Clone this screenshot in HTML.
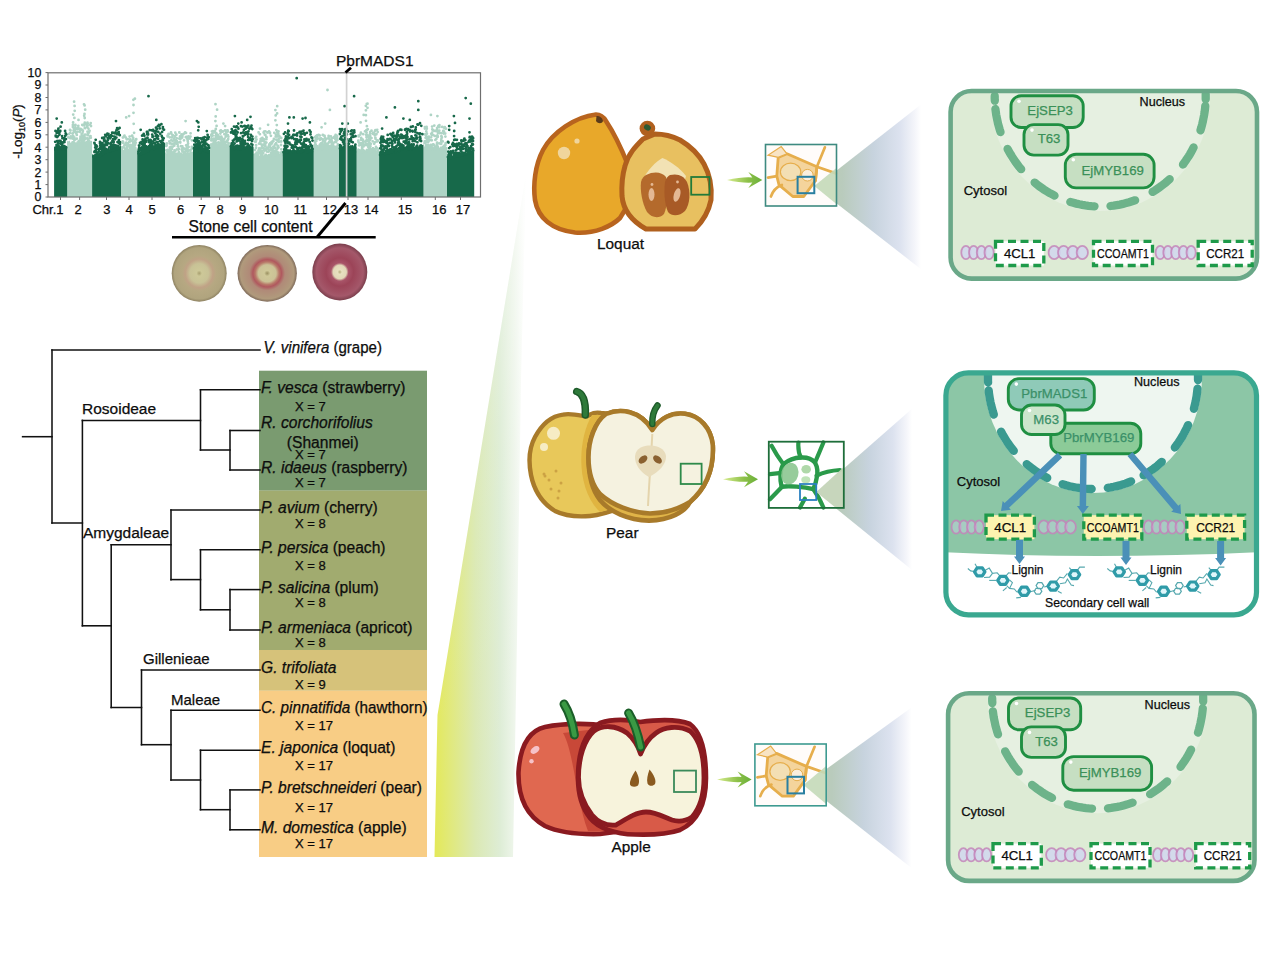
<!DOCTYPE html>
<html><head><meta charset="utf-8"><style>
html,body{margin:0;padding:0;background:#fff;width:1266px;height:960px;overflow:hidden}
svg{display:block}
text{font-family:"Liberation Sans",sans-serif;stroke:currentColor;stroke-width:0.25px}
</style></head><body>
<svg width="1266" height="960" viewBox="0 0 1266 960" fill="#111">
<g id="manhattan">
<g fill="#aed4c5">
<polygon points="67.2,197.0 67.2,140.7 68.4,141.5 69.7,140.5 70.9,144.1 72.2,141.8 73.4,142.3 74.7,141.4 75.9,142.9 77.2,140.4 78.4,143.8 79.7,142.1 80.9,141.4 82.1,140.8 83.4,141.4 84.6,141.5 85.9,141.2 87.1,140.7 88.4,142.8 89.6,141.6 90.9,140.8 92.1,140.9 92.1,197.0"/>
<polygon points="121.0,197.0 121.0,150.2 122.2,148.7 123.5,149.9 124.7,149.6 126.0,149.0 127.2,149.9 128.5,149.7 129.7,149.5 131.0,148.5 132.2,150.0 133.5,150.2 134.7,148.2 136.0,149.7 137.2,147.4 137.2,197.0"/>
<polygon points="165.0,197.0 165.0,151.0 166.2,153.5 167.4,151.8 168.7,152.3 169.9,152.0 171.1,152.7 172.3,153.0 173.5,151.3 174.7,152.1 176.0,153.2 177.2,153.2 178.4,152.9 179.6,153.4 180.8,152.2 182.0,153.6 183.3,153.8 184.5,153.8 185.7,153.7 186.9,151.5 188.1,153.7 189.3,152.4 190.6,151.2 191.8,152.3 193.0,153.5 193.0,197.0"/>
<polygon points="210.0,197.0 210.0,143.7 211.2,142.6 212.4,144.0 213.7,143.7 214.9,143.7 216.1,144.9 217.3,144.2 218.6,142.6 219.8,145.1 221.0,144.9 222.2,142.3 223.5,142.9 224.7,143.3 225.9,145.0 227.2,144.9 228.4,144.2 229.6,141.8 229.6,197.0"/>
<polygon points="253.6,197.0 253.6,153.8 254.8,155.0 256.0,153.9 257.2,153.7 258.4,153.9 259.7,155.9 260.9,153.3 262.1,155.4 263.3,155.5 264.5,153.9 265.7,155.5 266.9,155.2 268.1,153.9 269.4,153.5 270.6,154.7 271.8,151.5 273.0,151.7 274.2,153.0 275.4,152.5 276.6,153.4 277.8,150.8 279.1,153.9 280.3,153.2 281.5,153.4 282.7,150.9 282.7,197.0"/>
<polygon points="313.7,197.0 313.7,146.3 314.9,145.9 316.1,147.1 317.3,146.1 318.5,146.9 319.7,145.3 320.9,147.5 322.1,147.3 323.3,147.1 324.5,145.9 325.7,145.7 327.0,147.9 328.2,144.2 329.4,144.7 330.6,146.4 331.8,147.3 333.0,144.8 334.2,144.2 335.4,147.2 336.6,145.0 337.8,144.8 339.0,144.4 339.0,197.0"/>
<polygon points="356.6,197.0 356.6,150.7 357.9,148.0 359.1,148.7 360.4,149.2 361.6,150.5 362.9,148.6 364.1,150.5 365.4,150.5 366.6,148.8 367.9,148.6 369.1,148.0 370.4,147.9 371.6,150.5 372.9,149.8 374.1,150.4 375.4,149.1 376.6,150.9 377.9,147.7 379.1,148.4 379.1,197.0"/>
<polygon points="423.5,197.0 423.5,147.7 424.7,146.3 426.0,145.7 427.2,145.5 428.4,146.5 429.7,145.1 430.9,144.8 432.2,145.5 433.4,147.1 434.6,147.5 435.9,146.1 437.1,148.0 438.3,147.8 439.6,148.1 440.8,146.1 442.1,147.0 443.3,145.0 444.5,145.5 445.8,146.5 447.0,147.2 447.0,197.0"/>
</g><path fill="none" stroke="#aed4c5" stroke-width="2.8" stroke-linecap="round" d="M77.7 128.8h0M88.0 134.8h0M82.5 139.4h0M81.6 133.9h0M70.0 133.1h0M91.0 126.1h0M84.9 139.2h0M85.1 134.6h0M78.3 127.4h0M70.0 130.0h0M68.8 134.1h0M79.2 142.4h0M84.2 136.7h0M82.3 124.9h0M74.0 145.3h0M75.1 132.0h0M72.8 143.5h0M89.0 132.5h0M78.3 125.8h0M75.7 132.3h0M72.7 138.3h0M86.7 125.1h0M88.4 139.3h0M81.6 140.8h0M71.2 136.7h0M87.4 127.1h0M84.5 124.0h0M74.5 143.5h0M78.5 141.6h0M73.0 138.7h0M82.6 136.8h0M75.4 127.4h0M90.8 137.8h0M69.8 145.2h0M88.3 145.1h0M84.5 134.9h0M75.2 128.8h0M68.5 144.0h0M78.6 145.2h0M87.3 142.3h0M71.4 145.1h0M82.6 137.9h0M82.7 132.6h0M86.8 123.7h0M83.9 143.0h0M79.1 143.3h0M68.3 137.3h0M84.6 143.3h0M74.4 140.2h0M84.2 136.2h0M82.3 129.8h0M77.2 128.8h0M89.0 144.6h0M89.6 130.8h0M71.1 137.8h0M82.6 125.2h0M76.8 134.9h0M88.4 128.6h0M89.9 137.5h0M83.1 142.9h0M84.8 128.0h0M82.9 130.9h0M73.0 125.5h0M90.7 123.1h0M80.5 128.8h0M75.5 125.2h0M87.9 140.1h0M70.0 138.1h0M80.8 129.5h0M79.4 145.2h0M86.8 144.9h0M86.6 143.4h0M75.8 128.9h0M71.3 143.8h0M80.0 130.7h0M87.5 131.7h0M89.9 136.8h0M90.0 144.6h0M73.2 136.0h0M74.8 130.6h0M82.9 136.1h0M87.6 135.2h0M75.3 139.4h0M87.6 125.5h0M72.9 127.0h0M90.5 136.1h0M81.3 142.9h0M80.5 136.6h0M82.1 145.2h0M90.5 136.3h0M77.4 128.5h0M81.1 136.9h0M84.1 144.9h0M80.5 138.7h0M90.2 124.8h0M74.3 137.3h0M71.0 138.2h0M86.9 125.5h0M79.1 140.8h0M72.5 133.6h0M89.5 144.1h0M86.1 145.3h0M72.6 142.5h0M84.0 140.7h0M76.3 133.6h0M70.5 130.5h0M70.9 136.4h0M73.9 143.0h0M80.4 138.2h0M76.8 138.7h0M80.3 143.6h0M72.8 133.3h0M82.8 135.9h0M87.8 133.8h0M87.9 142.4h0M85.2 128.2h0M89.0 140.8h0M75.4 124.8h0M73.1 122.4h0M88.6 144.0h0M73.6 130.7h0M74.1 144.5h0M87.3 138.5h0M86.3 144.1h0M77.4 131.8h0M68.5 142.9h0M83.9 125.2h0M90.5 144.3h0M79.8 129.8h0M79.7 131.8h0M72.5 144.8h0M70.6 145.1h0M80.8 136.3h0M81.2 143.8h0M72.4 142.9h0M87.5 122.7h0M78.5 119.9h0M87.7 123.6h0M73.0 136.9h0M74.4 131.5h0M73.9 128.4h0M72.9 125.0h0M74.4 117.9h0M73.2 114.6h0M74.7 110.8h0M74.6 105.9h0M74.1 101.7h0M85.1 137.4h0M85.1 127.8h0M84.8 122.7h0M84.7 118.0h0M84.2 115.8h0M84.5 113.9h0M85.2 109.7h0M84.6 105.4h0M84.0 104.3h0M130.0 141.5h0M126.7 139.3h0M123.2 151.1h0M123.3 142.5h0M132.1 150.7h0M127.7 139.1h0M130.4 151.6h0M125.2 151.0h0M123.7 147.4h0M122.9 137.3h0M128.0 145.6h0M131.2 140.6h0M133.7 147.8h0M126.7 147.4h0M122.1 147.5h0M132.0 135.8h0M133.3 142.8h0M130.7 152.2h0M126.7 148.5h0M131.3 151.5h0M127.3 145.7h0M133.3 139.4h0M130.7 150.9h0M132.9 137.7h0M129.8 148.3h0M129.1 151.1h0M132.2 135.7h0M129.3 141.7h0M133.9 150.5h0M135.5 143.5h0M124.7 151.7h0M125.4 144.4h0M131.9 148.7h0M135.3 148.2h0M128.6 151.3h0M135.9 151.2h0M134.9 145.1h0M130.0 144.8h0M125.7 137.5h0M136.2 139.5h0M130.6 151.3h0M133.8 149.3h0M134.8 149.9h0M130.2 139.3h0M124.6 145.0h0M123.0 152.1h0M124.5 135.7h0M135.4 142.9h0M126.3 142.6h0M132.5 147.9h0M130.4 139.8h0M122.1 150.5h0M128.6 151.1h0M127.5 144.6h0M124.4 145.5h0M125.7 144.6h0M126.7 143.2h0M122.4 142.6h0M124.0 136.4h0M130.5 146.4h0M127.8 143.5h0M131.8 140.8h0M132.7 146.1h0M136.2 139.1h0M134.2 147.4h0M128.1 144.6h0M134.9 145.4h0M129.5 147.0h0M134.9 148.8h0M122.7 141.5h0M134.9 141.4h0M130.5 141.0h0M126.3 144.1h0M122.9 151.3h0M128.3 145.8h0M127.6 151.9h0M131.9 145.4h0M125.3 149.0h0M127.6 150.0h0M122.9 137.5h0M135.8 142.7h0M134.4 147.2h0M133.5 150.2h0M132.7 144.6h0M134.9 151.6h0M133.3 151.3h0M129.6 136.6h0M121.9 149.9h0M126.2 148.7h0M126.2 117.4h0M129.1 116.1h0M133.9 142.1h0M133.2 138.0h0M134.1 132.8h0M133.7 123.8h0M133.5 112.8h0M133.5 105.0h0M133.4 99.8h0M134.9 98.7h0M188.6 136.4h0M167.3 151.9h0M179.2 138.6h0M176.2 140.9h0M172.5 140.9h0M174.5 150.4h0M185.8 137.2h0M187.6 144.9h0M176.9 141.2h0M182.2 137.6h0M186.9 154.1h0M175.8 142.2h0M172.0 153.2h0M166.3 144.4h0M190.6 133.3h0M169.4 141.7h0M176.9 143.2h0M176.3 134.4h0M191.8 155.0h0M184.6 154.2h0M167.0 151.3h0M185.1 132.5h0M169.0 150.5h0M166.6 145.5h0M178.6 149.5h0M174.0 138.5h0M187.9 151.4h0M176.2 143.6h0M186.0 132.9h0M176.1 141.5h0M180.2 138.5h0M169.7 153.3h0M168.7 134.4h0M172.5 146.9h0M169.1 150.6h0M166.4 145.0h0M169.7 143.4h0M173.1 152.4h0M178.5 149.7h0M172.7 155.0h0M167.6 135.7h0M174.0 154.7h0M170.7 147.0h0M192.0 152.9h0M188.6 147.0h0M176.8 138.3h0M176.3 154.9h0M180.3 142.5h0M182.2 151.5h0M190.5 136.6h0M192.0 148.0h0M187.7 140.7h0M170.5 155.2h0M170.3 154.2h0M167.9 149.8h0M185.6 150.9h0M179.4 155.3h0M171.4 133.6h0M166.2 145.9h0M187.1 138.7h0M185.2 149.0h0M186.9 137.7h0M186.0 132.8h0M168.5 133.9h0M176.4 141.2h0M172.5 135.2h0M166.5 144.7h0M171.9 149.2h0M175.6 142.5h0M187.1 149.7h0M182.6 149.9h0M173.2 135.3h0M174.3 154.5h0M174.7 140.2h0M171.4 140.1h0M180.2 141.9h0M170.5 154.3h0M169.6 150.0h0M177.2 155.3h0M179.1 148.9h0M174.3 145.7h0M190.9 152.8h0M189.0 150.6h0M185.7 154.3h0M191.8 148.3h0M191.1 152.6h0M176.6 141.2h0M170.6 151.6h0M183.6 134.0h0M174.3 153.2h0M175.3 132.7h0M169.8 143.1h0M175.8 142.9h0M171.5 143.6h0M189.2 136.8h0M182.4 146.5h0M180.8 154.2h0M187.8 141.6h0M177.8 142.3h0M176.9 149.3h0M171.9 144.1h0M180.9 146.2h0M166.7 143.3h0M177.6 144.2h0M181.5 134.5h0M169.9 147.4h0M191.9 140.3h0M174.1 140.3h0M191.8 148.9h0M188.6 154.1h0M191.8 146.8h0M172.0 137.3h0M182.9 134.3h0M187.6 138.6h0M179.3 132.5h0M167.6 136.4h0M184.5 152.0h0M187.0 147.7h0M180.0 136.5h0M171.0 151.5h0M182.8 154.7h0M180.4 138.9h0M178.8 152.2h0M186.9 136.8h0M186.1 145.4h0M189.6 138.6h0M169.9 149.7h0M168.5 155.1h0M175.0 136.5h0M187.7 154.2h0M170.7 149.2h0M188.1 143.6h0M189.5 154.7h0M191.8 152.8h0M182.4 136.2h0M185.0 153.0h0M183.4 148.2h0M166.3 150.3h0M174.2 143.3h0M173.2 144.0h0M184.1 153.2h0M169.3 141.5h0M178.1 154.0h0M168.9 134.2h0M181.9 149.9h0M171.0 132.5h0M184.0 140.3h0M175.3 150.9h0M176.6 153.8h0M182.4 148.4h0M187.4 148.7h0M177.9 146.4h0M190.6 150.1h0M184.3 152.3h0M185.6 121.1h0M176.4 134.8h0M169.8 137.3h0M220.9 131.6h0M214.7 141.7h0M220.4 133.5h0M213.1 132.7h0M219.3 146.5h0M218.6 142.3h0M222.9 131.5h0M219.7 136.6h0M217.8 134.8h0M212.8 135.6h0M213.9 138.7h0M214.5 142.8h0M213.8 142.8h0M221.4 139.9h0M217.8 138.9h0M225.9 142.6h0M221.3 140.6h0M228.4 143.1h0M223.3 144.4h0M215.6 135.8h0M221.1 144.1h0M212.0 133.8h0M217.6 136.1h0M218.6 138.1h0M220.9 130.4h0M227.1 141.0h0M219.6 144.5h0M224.3 145.9h0M216.4 133.3h0M211.5 136.5h0M221.0 139.3h0M216.8 145.4h0M227.8 135.1h0M225.2 146.0h0M224.9 144.6h0M214.4 139.6h0M221.8 145.7h0M224.5 138.7h0M226.9 131.6h0M223.2 142.5h0M227.8 136.0h0M216.1 133.1h0M223.8 144.0h0M215.3 146.5h0M220.5 144.2h0M216.1 144.2h0M213.2 140.5h0M215.8 143.7h0M215.8 140.1h0M226.5 145.3h0M226.2 133.1h0M221.7 139.5h0M224.0 139.6h0M222.6 131.7h0M224.7 144.1h0M211.9 131.3h0M217.4 134.6h0M215.1 141.1h0M217.5 135.8h0M227.7 140.2h0M221.0 142.8h0M215.0 131.0h0M212.9 131.2h0M222.6 146.2h0M227.0 145.9h0M221.0 145.8h0M228.5 143.4h0M226.4 146.3h0M222.8 146.2h0M211.4 139.0h0M228.4 136.7h0M226.1 134.7h0M220.2 146.2h0M220.3 145.0h0M220.3 142.7h0M219.8 144.9h0M223.4 141.7h0M219.5 146.1h0M219.6 139.2h0M228.2 139.1h0M213.3 143.5h0M216.9 136.4h0M227.6 130.4h0M227.8 131.6h0M226.2 131.3h0M211.3 140.4h0M221.4 136.7h0M221.8 138.2h0M227.5 146.1h0M220.1 130.8h0M211.5 145.8h0M226.4 130.8h0M211.3 146.5h0M225.7 136.7h0M220.2 138.8h0M224.4 134.2h0M210.9 146.2h0M225.0 130.4h0M225.7 141.8h0M216.9 142.8h0M211.2 135.0h0M215.6 138.7h0M220.3 143.0h0M222.9 141.0h0M215.1 132.5h0M214.0 145.4h0M215.4 140.6h0M223.4 123.6h0M225.1 126.1h0M215.7 138.7h0M216.3 134.4h0M215.8 129.0h0M216.6 125.9h0M215.4 121.1h0M215.7 116.4h0M217.1 109.7h0M215.5 104.2h0M268.4 149.2h0M265.4 135.0h0M261.5 138.4h0M273.8 147.9h0M264.5 148.8h0M266.9 151.6h0M271.5 149.0h0M262.8 138.9h0M266.9 147.7h0M278.5 147.5h0M264.8 134.7h0M281.2 138.0h0M265.5 142.1h0M274.7 151.4h0M274.3 132.8h0M272.4 141.9h0M266.4 142.6h0M260.7 139.1h0M269.2 131.8h0M263.8 140.9h0M255.0 149.9h0M275.4 152.2h0M271.2 153.2h0M265.4 131.3h0M259.9 134.2h0M256.1 145.2h0M276.9 136.5h0M265.2 144.5h0M273.9 139.0h0M274.9 144.4h0M261.4 141.2h0M269.8 145.6h0M281.4 153.9h0M275.8 150.7h0M274.3 132.8h0M262.0 145.3h0M268.9 147.0h0M259.1 143.7h0M278.9 141.8h0M262.4 137.9h0M266.0 155.0h0M271.0 147.8h0M269.0 131.4h0M270.0 132.7h0M264.1 139.4h0M256.6 152.7h0M273.4 141.2h0M277.1 149.4h0M262.0 150.9h0M269.2 156.3h0M264.7 142.5h0M258.6 152.3h0M278.3 133.3h0M261.3 154.9h0M257.7 156.7h0M276.2 139.6h0M261.7 147.6h0M273.5 155.9h0M276.9 135.8h0M260.3 141.3h0M273.6 150.6h0M278.5 152.7h0M267.4 151.6h0M266.6 137.5h0M270.1 143.7h0M281.4 152.4h0M260.6 143.9h0M258.6 132.4h0M263.8 148.8h0M266.3 137.0h0M279.5 141.4h0M259.2 151.2h0M273.8 153.1h0M278.6 135.3h0M260.7 150.9h0M260.7 140.8h0M255.8 141.7h0M256.2 136.8h0M269.3 144.5h0M257.1 157.2h0M264.1 131.6h0M270.9 135.8h0M256.2 156.6h0M255.1 141.7h0M259.3 153.1h0M272.7 141.1h0M263.3 148.1h0M262.4 145.5h0M264.2 150.7h0M261.3 152.5h0M261.6 157.1h0M263.0 144.6h0M261.8 155.9h0M277.6 147.2h0M268.5 151.6h0M278.7 139.1h0M271.5 142.2h0M273.4 146.6h0M265.8 149.9h0M268.3 147.7h0M268.9 146.0h0M276.0 134.7h0M260.6 157.1h0M262.7 156.9h0M276.2 143.1h0M262.3 154.5h0M278.2 136.5h0M273.2 141.2h0M274.8 147.7h0M265.3 145.6h0M278.5 131.4h0M279.5 136.5h0M256.5 153.9h0M281.0 145.0h0M268.6 151.6h0M278.0 145.9h0M281.5 154.7h0M281.6 155.3h0M258.5 150.4h0M272.0 155.1h0M269.9 133.2h0M266.4 139.2h0M270.7 144.5h0M259.2 148.4h0M279.1 141.5h0M260.4 148.8h0M269.3 150.9h0M270.3 143.1h0M255.0 154.6h0M272.4 153.3h0M256.5 139.5h0M263.6 132.6h0M269.8 155.4h0M271.9 152.4h0M276.7 140.1h0M275.2 155.5h0M255.4 138.3h0M258.3 154.7h0M255.3 155.6h0M267.4 132.6h0M263.3 153.1h0M277.1 153.4h0M271.8 143.5h0M280.0 155.2h0M269.9 149.8h0M277.0 152.2h0M274.0 153.7h0M268.0 132.2h0M261.1 152.8h0M279.5 141.4h0M256.3 155.1h0M261.0 152.6h0M277.6 140.7h0M281.2 141.5h0M271.6 149.7h0M274.1 146.7h0M256.1 147.8h0M265.0 146.2h0M255.8 157.5h0M281.3 149.3h0M260.0 128.6h0M268.1 124.8h0M276.5 149.6h0M276.3 144.3h0M275.7 136.6h0M277.1 132.1h0M276.3 130.1h0M276.8 125.1h0M275.4 120.3h0M275.7 115.4h0M277.1 113.4h0M275.4 110.1h0M277.2 106.2h0M319.5 148.4h0M318.5 147.3h0M335.8 136.6h0M325.7 148.3h0M322.9 147.2h0M329.8 140.1h0M332.8 144.6h0M325.3 144.2h0M323.3 144.4h0M330.7 140.2h0M322.3 142.6h0M318.0 148.9h0M323.7 145.7h0M315.4 148.7h0M324.6 135.9h0M334.3 149.0h0M322.0 145.6h0M321.9 148.2h0M328.5 137.9h0M323.6 147.8h0M317.1 149.1h0M332.6 147.3h0M331.6 138.8h0M316.6 147.7h0M322.0 139.2h0M331.9 146.4h0M325.2 145.7h0M325.7 138.8h0M320.8 138.4h0M336.2 142.1h0M337.1 136.0h0M318.6 135.0h0M319.3 138.6h0M317.4 146.4h0M325.0 137.9h0M330.6 147.6h0M335.7 137.4h0M326.6 148.9h0M321.3 146.5h0M324.4 135.9h0M328.6 138.3h0M316.3 147.1h0M331.8 145.9h0M319.9 148.8h0M315.8 145.0h0M327.4 145.1h0M327.9 146.6h0M315.0 140.9h0M322.5 143.8h0M323.5 146.8h0M315.8 146.5h0M321.6 148.4h0M315.3 144.0h0M315.1 137.2h0M323.1 144.5h0M327.0 149.0h0M317.0 138.9h0M327.7 143.8h0M322.7 139.5h0M326.4 138.8h0M334.2 136.9h0M331.7 140.9h0M325.4 143.2h0M328.2 143.3h0M333.8 137.6h0M315.8 139.5h0M329.1 142.1h0M335.9 148.9h0M325.8 145.5h0M336.9 148.0h0M327.8 148.2h0M332.3 143.8h0M331.9 146.4h0M335.4 149.1h0M319.9 139.8h0M335.3 139.1h0M321.1 148.7h0M331.3 139.9h0M316.0 136.1h0M327.0 149.0h0M325.9 146.0h0M317.1 137.0h0M336.6 148.3h0M325.1 146.8h0M330.4 148.5h0M322.4 145.0h0M325.7 144.6h0M328.6 136.0h0M336.5 136.6h0M334.1 147.3h0M320.3 144.3h0M329.7 142.0h0M322.8 135.0h0M321.9 149.0h0M316.7 147.5h0M331.8 137.9h0M315.6 147.2h0M320.3 138.9h0M335.7 146.9h0M317.0 135.5h0M337.4 140.1h0M325.7 139.6h0M332.6 143.5h0M321.0 143.3h0M330.2 146.1h0M329.6 148.1h0M337.4 147.5h0M319.9 135.6h0M336.9 136.3h0M334.4 137.7h0M333.9 142.6h0M316.3 139.9h0M334.2 137.9h0M315.6 148.8h0M331.8 143.9h0M335.6 135.0h0M325.1 140.8h0M330.2 140.5h0M323.2 141.5h0M316.2 136.8h0M331.6 138.6h0M325.5 147.5h0M325.2 140.8h0M327.5 148.5h0M314.7 145.2h0M320.4 147.3h0M319.8 144.9h0M330.9 136.5h0M330.5 149.0h0M335.0 142.0h0M331.8 141.9h0M322.9 146.0h0M316.3 141.0h0M315.9 140.8h0M336.0 141.0h0M328.8 138.5h0M337.2 138.4h0M337.9 144.3h0M314.9 141.9h0M327.5 90.0h0M329.9 109.9h0M325.2 123.6h0M321.6 127.3h0M374.2 143.8h0M376.4 134.3h0M374.7 135.2h0M362.0 147.0h0M358.7 136.4h0M367.3 129.6h0M363.5 145.1h0M375.4 130.2h0M373.2 132.9h0M376.6 148.5h0M370.3 151.7h0M371.5 130.7h0M368.0 150.7h0M369.3 151.7h0M367.1 151.5h0M366.1 134.8h0M372.8 133.8h0M367.0 144.9h0M358.6 135.7h0M369.3 145.7h0M360.5 144.5h0M358.8 151.0h0M359.1 145.3h0M360.3 134.6h0M370.1 133.4h0M369.0 150.5h0M363.2 134.2h0M369.6 139.7h0M370.6 151.9h0M361.6 145.1h0M375.0 131.0h0M369.7 148.7h0M358.5 142.0h0M366.0 131.4h0M361.8 149.7h0M357.8 152.1h0M374.2 133.2h0M360.7 152.1h0M369.4 149.0h0M370.2 132.0h0M373.0 148.3h0M370.1 148.2h0M373.2 148.8h0M375.5 138.8h0M376.0 147.0h0M377.3 141.4h0M362.8 139.7h0M363.9 151.1h0M358.3 140.7h0M362.5 151.3h0M373.6 150.7h0M373.1 148.5h0M365.0 131.3h0M374.7 134.3h0M377.8 140.9h0M376.9 140.4h0M369.6 147.5h0M365.4 141.7h0M362.6 139.8h0M375.4 137.7h0M362.2 152.1h0M365.1 145.1h0M375.0 142.3h0M368.2 140.8h0M368.9 138.9h0M369.0 142.2h0M362.4 151.0h0M366.6 132.8h0M377.1 148.1h0M369.4 143.0h0M366.9 150.2h0M373.8 151.5h0M362.2 148.4h0M361.7 149.9h0M359.2 142.9h0M361.1 139.8h0M369.9 140.3h0M367.4 140.6h0M363.6 144.4h0M371.8 149.5h0M372.7 141.3h0M377.7 140.5h0M368.9 136.3h0M363.5 146.4h0M366.5 137.3h0M372.4 150.0h0M377.2 129.8h0M367.8 129.3h0M370.4 146.2h0M359.3 152.1h0M369.7 137.7h0M370.2 135.9h0M366.5 137.1h0M370.0 140.1h0M368.9 139.2h0M369.1 151.4h0M371.5 138.1h0M366.4 130.2h0M367.5 150.3h0M368.1 146.8h0M360.9 132.7h0M361.2 137.9h0M361.0 143.1h0M378.1 151.4h0M375.3 152.2h0M377.7 132.1h0M366.8 140.0h0M367.0 150.4h0M364.9 144.9h0M375.5 151.1h0M368.7 144.2h0M368.9 135.6h0M369.9 147.5h0M377.3 141.0h0M363.1 142.3h0M375.5 151.9h0M370.9 143.8h0M363.5 150.5h0M362.3 145.0h0M366.2 140.9h0M363.1 140.4h0M367.3 135.5h0M374.2 149.1h0M363.7 114.9h0M360.6 122.4h0M366.5 143.6h0M366.7 140.8h0M367.5 136.4h0M367.0 130.0h0M366.9 126.2h0M366.0 120.8h0M365.9 115.2h0M365.9 110.3h0M367.5 107.8h0M365.8 105.8h0M366.8 103.8h0M367.5 103.7h0M431.4 149.3h0M426.8 128.7h0M430.9 149.7h0M445.7 143.1h0M441.2 141.3h0M445.4 149.0h0M434.7 135.9h0M424.9 127.1h0M431.7 134.9h0M426.1 149.0h0M426.3 131.4h0M444.8 127.2h0M435.9 148.8h0M441.3 139.9h0M441.4 136.2h0M436.7 147.6h0M427.5 149.0h0M433.8 145.2h0M445.1 149.4h0M440.9 148.4h0M426.6 126.9h0M429.2 137.4h0M437.1 142.7h0M432.0 148.1h0M439.5 143.3h0M437.4 130.5h0M426.0 142.1h0M432.1 126.6h0M437.9 147.1h0M434.3 149.7h0M435.6 149.1h0M427.4 139.8h0M436.1 146.8h0M437.1 144.7h0M439.6 149.3h0M442.7 141.4h0M428.2 145.2h0M438.0 148.8h0M444.2 146.6h0M433.3 149.1h0M434.3 125.6h0M428.5 147.4h0M436.3 136.1h0M427.5 146.7h0M437.5 146.3h0M425.0 134.4h0M443.2 130.9h0M443.0 146.8h0M431.1 137.3h0M437.8 136.5h0M436.4 146.4h0M429.6 148.9h0M425.6 137.8h0M426.3 128.5h0M445.2 148.0h0M445.4 136.6h0M424.5 143.1h0M432.2 144.8h0M425.9 146.2h0M424.8 141.4h0M434.9 146.4h0M444.5 128.2h0M435.2 131.0h0M432.1 132.6h0M441.3 143.8h0M440.5 143.8h0M428.2 142.2h0M426.9 133.7h0M429.9 140.1h0M441.9 137.3h0M444.1 133.4h0M439.4 133.0h0M439.4 127.1h0M437.3 135.5h0M436.3 139.1h0M444.8 145.0h0M428.5 140.0h0M431.2 133.8h0M438.2 149.7h0M428.9 136.7h0M433.0 134.9h0M434.6 148.5h0M439.4 125.2h0M426.4 136.8h0M437.7 136.9h0M435.4 139.9h0M445.9 128.7h0M433.8 130.6h0M438.9 130.9h0M446.1 149.1h0M429.0 146.4h0M442.2 126.9h0M429.3 140.5h0M443.7 133.6h0M437.1 128.0h0M444.4 148.8h0M445.4 145.2h0M437.7 132.6h0M430.8 144.9h0M444.0 131.4h0M445.6 148.8h0M438.0 133.0h0M445.2 133.5h0M430.5 148.7h0M428.2 145.9h0M436.8 144.5h0M427.6 148.9h0M439.3 130.6h0M427.1 139.7h0M445.7 143.6h0M436.0 130.7h0M424.9 128.6h0M441.2 133.1h0M431.8 140.3h0M444.8 149.2h0M426.2 136.1h0M445.1 148.0h0M428.5 141.1h0M441.5 138.3h0M438.7 149.3h0M428.7 137.7h0M440.1 148.8h0M426.4 144.7h0M433.4 144.3h0M428.1 149.1h0M438.4 125.9h0M438.2 127.1h0M427.2 136.8h0M432.3 129.5h0M430.9 114.9h0M437.4 116.1h0"/>
<g fill="#17694a">
<polygon points="54.1,197.0 54.1,146.8 55.4,146.4 56.7,145.0 58.0,146.7 59.3,146.6 60.7,146.3 62.0,147.8 63.3,146.6 64.6,146.1 65.9,145.5 67.2,148.1 67.2,197.0"/>
<polygon points="92.1,197.0 92.1,154.1 93.3,155.0 94.5,154.3 95.7,153.6 96.9,152.3 98.1,155.4 99.3,152.7 100.5,151.8 101.7,153.1 102.9,152.1 104.1,153.0 105.3,152.0 106.5,150.8 107.8,151.4 109.0,150.3 110.2,147.4 111.4,148.3 112.6,148.0 113.8,145.8 115.0,146.8 116.2,144.8 117.4,145.6 118.6,144.5 119.8,146.8 121.0,144.4 121.0,197.0"/>
<polygon points="137.2,197.0 137.2,150.8 138.4,151.0 139.6,152.7 140.8,150.2 142.0,148.9 143.2,150.3 144.5,151.2 145.7,150.2 146.9,149.5 148.1,147.5 149.3,149.0 150.5,148.6 151.7,148.0 152.9,146.0 154.1,145.1 155.3,146.2 156.5,144.7 157.7,143.4 159.0,144.1 160.2,145.0 161.4,144.3 162.6,141.5 163.8,142.1 165.0,143.1 165.0,197.0"/>
<polygon points="193.0,197.0 193.0,148.8 194.2,149.9 195.4,147.7 196.6,149.9 197.9,147.8 199.1,148.4 200.3,149.3 201.5,147.5 202.7,149.5 203.9,148.2 205.1,148.7 206.4,149.3 207.6,150.7 208.8,149.4 210.0,149.9 210.0,197.0"/>
<polygon points="229.6,197.0 229.6,146.6 230.8,144.9 232.0,146.4 233.2,146.8 234.4,145.6 235.6,145.1 236.8,146.1 238.0,144.8 239.2,147.8 240.4,146.0 241.6,146.4 242.8,147.6 244.0,144.4 245.2,147.3 246.4,147.1 247.6,144.6 248.8,144.3 250.0,144.4 251.2,146.6 252.4,144.4 253.6,147.3 253.6,197.0"/>
<polygon points="282.7,197.0 282.7,150.8 283.9,150.6 285.2,149.9 286.4,150.3 287.7,150.6 288.9,150.2 290.1,148.6 291.4,150.3 292.6,150.3 293.9,149.0 295.1,149.6 296.3,150.4 297.6,148.9 298.8,149.1 300.1,149.5 301.3,149.2 302.5,150.8 303.8,148.7 305.0,150.3 306.3,149.7 307.5,150.9 308.7,147.7 310.0,148.8 311.2,149.5 312.5,148.9 313.7,147.5 313.7,197.0"/>
<polygon points="339.0,197.0 339.0,146.1 340.3,145.3 341.5,146.2 342.8,147.1 344.0,148.5 345.3,145.4 346.5,146.2 347.8,144.8 349.1,146.3 350.3,145.3 351.6,145.6 352.8,144.8 354.1,146.8 355.3,145.1 356.6,147.0 356.6,197.0"/>
<polygon points="379.1,197.0 379.1,151.9 380.3,150.4 381.6,151.1 382.8,152.5 384.0,151.7 385.3,151.1 386.5,152.2 387.7,148.9 389.0,150.3 390.2,151.2 391.4,149.8 392.7,148.4 393.9,150.2 395.1,148.7 396.4,150.4 397.6,149.6 398.8,149.5 400.1,148.1 401.3,147.2 402.5,148.6 403.8,146.7 405.0,146.8 406.2,146.0 407.5,144.8 408.7,147.0 409.9,144.3 411.2,146.1 412.4,145.6 413.6,146.6 414.9,146.8 416.1,144.4 417.3,146.2 418.6,146.2 419.8,145.8 421.0,143.8 422.3,144.9 423.5,144.4 423.5,197.0"/>
<polygon points="447.0,197.0 447.0,155.6 448.2,155.2 449.5,153.8 450.7,153.4 451.9,156.2 453.2,154.8 454.4,155.8 455.7,153.7 456.9,154.7 458.1,152.7 459.4,153.7 460.6,154.7 461.8,151.1 463.1,153.7 464.3,152.9 465.5,151.6 466.8,153.1 468.0,150.1 469.3,150.1 470.5,152.0 471.7,149.8 473.0,151.4 474.2,149.6 474.2,197.0"/>
</g><path fill="none" stroke="#17694a" stroke-width="2.8" stroke-linecap="round" d="M58.4 149.1h0M64.1 138.2h0M55.5 130.9h0M65.9 139.1h0M62.0 148.3h0M55.2 141.8h0M55.7 147.8h0M57.7 149.6h0M60.2 143.6h0M64.5 142.0h0M62.2 142.4h0M62.5 143.3h0M58.1 130.5h0M66.3 134.6h0M63.0 145.9h0M57.6 146.3h0M55.8 136.4h0M59.5 134.5h0M59.4 131.6h0M64.6 149.7h0M57.4 132.8h0M60.3 131.0h0M59.5 149.2h0M62.1 136.1h0M58.0 149.1h0M58.8 131.4h0M63.6 148.8h0M57.8 148.9h0M55.7 135.7h0M57.0 141.2h0M60.1 147.8h0M63.3 148.6h0M62.3 148.8h0M59.8 147.5h0M58.0 131.2h0M64.1 146.1h0M65.0 147.5h0M59.5 134.3h0M62.3 149.0h0M66.2 147.5h0M57.9 136.3h0M58.7 146.2h0M55.8 149.1h0M61.6 147.1h0M61.8 144.9h0M60.1 131.5h0M60.5 140.9h0M64.8 147.9h0M56.7 132.9h0M64.2 147.0h0M57.1 137.1h0M65.6 147.8h0M65.7 133.5h0M61.8 144.0h0M56.2 149.5h0M65.9 147.1h0M63.0 146.9h0M64.3 140.4h0M58.3 148.0h0M63.1 149.3h0M57.6 141.2h0M64.6 140.0h0M58.2 132.6h0M57.3 149.7h0M58.0 143.5h0M55.7 148.0h0M59.2 140.9h0M56.5 145.1h0M65.1 131.0h0M62.4 138.2h0M61.6 148.5h0M55.4 149.7h0M56.7 118.6h0M61.8 122.4h0M60.6 126.7h0M58.4 128.6h0M65.2 136.0h0M113.6 150.3h0M118.2 146.9h0M105.8 152.2h0M106.4 143.8h0M94.6 143.6h0M104.4 146.7h0M109.2 147.5h0M100.7 146.1h0M108.2 149.4h0M112.4 147.2h0M93.4 156.7h0M94.2 157.4h0M113.5 144.9h0M117.3 134.2h0M94.4 142.8h0M118.6 147.9h0M117.5 142.1h0M105.9 135.3h0M99.6 149.3h0M118.4 134.3h0M105.7 135.3h0M115.1 139.2h0M96.1 149.3h0M105.3 151.9h0M94.4 152.0h0M96.4 152.4h0M111.1 144.7h0M100.1 147.9h0M104.4 141.2h0M107.4 133.7h0M118.8 133.7h0M99.5 155.6h0M117.2 133.3h0M109.9 147.2h0M100.4 145.7h0M108.3 143.3h0M110.2 138.3h0M98.1 154.5h0M119.6 127.9h0M116.8 149.0h0M94.6 155.8h0M104.5 144.6h0M95.8 151.0h0M95.0 157.7h0M111.3 142.6h0M110.1 146.9h0M106.0 151.5h0M102.3 143.2h0M115.7 149.1h0M96.2 145.5h0M109.9 138.1h0M98.8 151.5h0M100.0 143.2h0M103.0 144.8h0M119.8 143.2h0M107.9 139.9h0M118.0 141.9h0M103.0 154.2h0M116.7 148.6h0M95.2 150.9h0M106.1 142.3h0M101.1 143.3h0M95.1 156.4h0M110.9 151.0h0M101.2 144.3h0M111.8 147.7h0M96.9 153.5h0M112.7 145.8h0M96.2 147.6h0M108.4 135.1h0M118.5 128.7h0M104.9 140.3h0M101.3 152.1h0M103.8 137.7h0M117.2 145.9h0M102.8 150.5h0M102.8 150.0h0M103.5 152.8h0M108.3 138.4h0M107.6 137.8h0M108.3 151.0h0M113.6 132.8h0M100.6 155.8h0M107.0 145.0h0M108.4 133.8h0M110.6 136.7h0M94.7 151.5h0M114.4 149.6h0M95.2 147.6h0M117.4 148.3h0M110.2 150.6h0M113.2 139.2h0M99.7 154.2h0M113.7 141.9h0M113.7 144.7h0M102.2 138.0h0M111.2 143.9h0M107.6 140.7h0M112.2 132.7h0M104.1 140.2h0M111.1 135.1h0M114.8 133.3h0M117.1 128.2h0M110.4 143.7h0M112.2 135.8h0M104.4 148.8h0M97.0 146.5h0M119.9 142.1h0M97.5 155.4h0M104.5 151.0h0M119.3 147.8h0M101.4 154.7h0M110.6 137.5h0M97.9 156.7h0M105.4 145.0h0M117.6 148.7h0M95.9 156.3h0M98.9 154.4h0M112.4 140.9h0M99.1 154.9h0M100.6 154.4h0M113.5 146.4h0M107.9 138.1h0M106.0 150.8h0M117.0 129.6h0M102.3 147.4h0M118.9 140.2h0M99.0 156.3h0M118.7 131.9h0M103.4 147.2h0M107.0 150.1h0M119.8 135.2h0M99.4 156.4h0M105.8 149.0h0M114.6 136.7h0M109.4 150.8h0M97.3 153.9h0M100.0 141.8h0M107.0 143.0h0M119.9 144.3h0M107.5 151.7h0M113.9 150.4h0M115.3 132.7h0M115.3 149.2h0M100.3 145.0h0M95.6 152.1h0M105.7 135.9h0M108.9 136.4h0M101.2 142.9h0M104.3 137.9h0M95.5 145.6h0M98.6 149.4h0M107.2 151.7h0M115.5 145.5h0M101.4 155.1h0M101.3 149.5h0M112.4 146.1h0M111.6 150.5h0M116.0 121.1h0M105.2 134.8h0M95.7 139.8h0M109.3 136.0h0M118.3 142.5h0M116.4 137.6h0M116.9 134.3h0M116.4 130.3h0M154.7 148.2h0M163.7 138.3h0M151.8 141.3h0M139.3 145.4h0M145.5 149.6h0M159.0 146.6h0M145.5 138.7h0M144.5 149.5h0M152.4 147.8h0M161.4 124.2h0M139.0 148.4h0M157.6 142.1h0M162.3 137.5h0M142.8 144.8h0M154.9 143.7h0M155.2 133.3h0M151.5 142.0h0M160.1 133.7h0M151.6 130.3h0M142.6 139.5h0M142.4 143.8h0M144.2 146.6h0M158.2 131.8h0M158.7 144.5h0M150.8 147.9h0M153.2 141.4h0M139.0 145.5h0M156.7 138.2h0M160.8 144.6h0M142.0 153.7h0M151.0 143.8h0M149.6 147.7h0M158.9 146.8h0M161.7 136.0h0M152.2 134.6h0M144.3 151.6h0M146.2 152.0h0M146.3 141.7h0M151.8 146.8h0M153.4 148.7h0M159.4 145.3h0M144.7 151.2h0M156.1 131.6h0M158.6 147.1h0M148.8 146.2h0M143.7 133.9h0M139.2 147.8h0M157.9 126.1h0M141.9 147.3h0M157.5 147.7h0M144.4 135.8h0M141.8 148.6h0M145.8 146.2h0M140.1 154.4h0M164.0 129.7h0M157.2 145.2h0M144.7 144.0h0M144.4 146.1h0M162.3 140.5h0M146.9 132.0h0M154.0 149.0h0M148.6 139.9h0M139.6 150.4h0M156.2 130.6h0M153.5 131.3h0M150.1 145.0h0M160.0 141.1h0M158.4 145.0h0M147.1 150.0h0M152.4 148.2h0M143.4 151.0h0M150.3 146.6h0M149.7 130.1h0M155.8 130.8h0M143.4 148.1h0M140.0 142.9h0M147.5 148.3h0M138.6 153.4h0M144.9 147.2h0M162.1 131.9h0M145.1 147.8h0M142.1 135.7h0M147.5 137.6h0M156.9 128.9h0M138.6 151.2h0M148.1 150.9h0M161.0 141.9h0M158.1 138.8h0M139.5 149.5h0M144.3 152.7h0M142.0 144.2h0M138.9 151.2h0M149.1 142.2h0M141.6 141.8h0M144.9 139.8h0M155.4 147.2h0M143.4 149.9h0M156.6 142.0h0M148.1 134.5h0M144.0 149.5h0M147.1 149.5h0M139.2 154.8h0M154.5 139.3h0M159.1 125.7h0M145.9 140.7h0M162.0 143.5h0M156.0 136.1h0M162.9 127.1h0M144.2 142.4h0M140.4 148.5h0M148.3 151.0h0M148.1 147.2h0M151.0 146.8h0M142.2 148.2h0M150.5 148.9h0M155.4 145.8h0M140.5 150.0h0M149.1 149.6h0M153.2 136.5h0M152.5 136.9h0M138.7 149.9h0M147.6 151.3h0M148.6 150.9h0M151.0 140.4h0M150.3 146.3h0M144.7 152.7h0M147.1 134.3h0M152.8 146.4h0M155.5 146.6h0M150.3 140.0h0M162.9 140.3h0M153.1 129.9h0M158.2 136.1h0M154.2 142.9h0M148.9 147.8h0M159.7 128.4h0M148.0 133.4h0M139.1 153.8h0M151.3 146.2h0M147.5 131.8h0M142.0 151.9h0M144.0 141.3h0M144.2 153.0h0M152.2 144.1h0M144.3 145.4h0M155.0 139.5h0M154.3 139.5h0M159.7 125.6h0M146.8 147.3h0M161.1 142.1h0M156.7 135.0h0M156.0 127.7h0M148.5 96.2h0M156.3 119.9h0M140.7 129.8h0M158.9 124.8h0M162.8 128.6h0M200.6 138.3h0M198.4 143.4h0M204.1 150.1h0M200.2 151.3h0M207.5 150.0h0M200.3 148.9h0M206.4 140.0h0M202.9 145.8h0M195.4 139.8h0M195.2 148.7h0M199.6 142.8h0M204.1 148.8h0M207.5 137.9h0M194.3 144.7h0M201.0 148.6h0M201.0 149.2h0M204.1 144.7h0M208.7 137.2h0M209.0 148.0h0M206.5 143.8h0M204.6 137.1h0M194.9 147.3h0M200.0 144.0h0M197.2 137.8h0M197.1 148.6h0M196.1 148.3h0M205.2 151.7h0M196.4 144.3h0M203.4 142.3h0M197.8 141.3h0M205.0 141.5h0M195.7 147.2h0M194.1 140.6h0M208.3 138.9h0M194.3 148.9h0M202.0 146.0h0M195.6 141.8h0M198.5 146.5h0M195.8 145.7h0M195.9 151.7h0M201.7 149.5h0M205.7 150.1h0M200.2 152.0h0M197.2 147.4h0M202.4 147.2h0M206.8 151.6h0M206.8 151.1h0M208.6 145.9h0M200.1 144.8h0M207.0 137.6h0M200.2 152.2h0M196.2 141.3h0M205.1 142.7h0M196.3 146.2h0M194.3 151.6h0M198.5 138.2h0M203.7 140.2h0M194.6 148.0h0M195.1 150.0h0M195.6 139.4h0M198.9 146.8h0M203.8 139.4h0M208.3 145.2h0M201.5 139.3h0M199.9 149.5h0M205.1 149.9h0M199.5 147.7h0M201.1 148.7h0M200.4 147.4h0M194.7 141.0h0M194.8 146.3h0M202.2 148.1h0M197.3 151.6h0M199.6 149.3h0M201.3 150.3h0M205.3 146.6h0M194.0 148.2h0M208.6 152.2h0M202.9 138.0h0M199.5 145.0h0M199.5 149.5h0M203.2 145.0h0M198.7 146.7h0M201.7 142.2h0M194.7 151.7h0M197.7 149.9h0M206.0 147.6h0M207.0 147.9h0M198.2 143.7h0M195.2 138.1h0M206.5 149.0h0M198.7 141.1h0M205.9 144.0h0M196.9 121.1h0M206.8 131.1h0M207.6 134.8h0M197.8 145.0h0M196.7 139.7h0M198.2 130.3h0M198.7 126.8h0M198.3 122.4h0M246.4 126.7h0M234.8 147.6h0M245.6 128.7h0M246.6 126.6h0M240.6 143.0h0M233.2 145.2h0M251.3 148.5h0M234.6 143.6h0M231.6 144.5h0M234.6 147.8h0M242.2 138.9h0M243.1 132.5h0M242.2 126.6h0M232.3 146.1h0M232.2 144.4h0M247.4 127.4h0M241.7 147.2h0M237.8 138.1h0M237.0 131.6h0M252.1 140.9h0M243.9 129.9h0M240.8 146.7h0M251.5 125.6h0M231.0 132.5h0M239.4 148.7h0M234.1 147.0h0M246.8 146.3h0M230.9 146.2h0M248.2 139.9h0M245.0 140.8h0M234.6 149.0h0M237.3 148.8h0M236.3 136.7h0M238.7 140.6h0M244.4 144.2h0M238.4 128.7h0M243.4 142.0h0M242.5 140.9h0M237.9 127.7h0M235.7 127.0h0M249.4 128.8h0M234.1 139.7h0M252.4 144.8h0M234.3 133.7h0M235.7 137.7h0M234.0 126.6h0M236.8 148.2h0M245.8 143.6h0M242.9 140.0h0M251.0 139.5h0M238.9 149.1h0M241.5 145.2h0M243.2 136.3h0M240.8 148.3h0M241.5 140.4h0M244.7 125.9h0M236.7 141.4h0M232.4 131.4h0M235.7 130.4h0M248.2 145.5h0M250.5 139.8h0M240.0 138.5h0M251.5 140.2h0M241.2 144.8h0M249.2 139.8h0M238.1 146.6h0M235.3 130.3h0M248.3 125.6h0M250.9 134.8h0M248.2 134.0h0M248.5 131.3h0M234.4 130.9h0M237.2 145.7h0M250.9 149.0h0M241.9 143.7h0M248.1 136.9h0M250.7 127.1h0M244.8 148.6h0M245.3 148.0h0M252.3 129.1h0M237.4 146.8h0M245.9 132.6h0M252.4 136.6h0M233.3 133.6h0M231.8 129.2h0M247.6 131.8h0M249.9 138.1h0M251.4 136.1h0M241.4 142.7h0M238.3 149.0h0M234.1 131.5h0M235.6 135.7h0M247.7 134.5h0M242.0 144.3h0M236.6 146.8h0M244.9 134.8h0M251.4 144.0h0M251.1 127.8h0M236.9 126.5h0M244.3 126.1h0M247.7 143.9h0M236.7 139.3h0M241.3 148.9h0M249.6 139.0h0M241.0 133.1h0M236.0 146.6h0M243.4 145.8h0M237.8 148.5h0M231.7 143.4h0M242.2 126.6h0M244.7 142.0h0M239.5 145.9h0M241.0 126.2h0M233.2 141.6h0M245.7 132.5h0M242.8 136.1h0M251.3 128.1h0M236.1 138.8h0M252.6 139.2h0M234.7 132.4h0M231.8 147.4h0M242.7 145.2h0M246.5 133.6h0M237.6 132.4h0M244.9 134.2h0M240.6 141.6h0M232.9 140.6h0M251.7 128.5h0M231.7 148.5h0M236.5 134.5h0M240.2 147.7h0M239.9 138.0h0M234.9 116.1h0M250.5 116.8h0M247.2 119.9h0M241.6 122.4h0M238.3 123.6h0M287.5 146.5h0M304.3 146.8h0M304.2 133.2h0M284.8 148.5h0M292.2 137.7h0M306.5 139.0h0M310.6 150.2h0M295.1 134.8h0M306.0 151.2h0M312.2 137.9h0M308.9 147.0h0M301.3 131.7h0M309.8 142.1h0M309.6 130.5h0M308.1 140.2h0M311.6 150.8h0M295.4 142.4h0M287.4 136.8h0M285.4 140.8h0M291.8 147.7h0M301.3 150.1h0M296.7 134.7h0M312.4 148.9h0M294.3 139.2h0M289.1 134.9h0M289.4 142.6h0M293.5 152.2h0M283.6 152.2h0M293.2 148.6h0M312.5 140.6h0M285.5 138.6h0M290.4 144.4h0M304.7 134.7h0M310.9 145.7h0M292.9 146.2h0M292.7 137.9h0M297.1 139.4h0M288.0 136.8h0M311.8 149.9h0M301.6 150.5h0M284.6 145.9h0M289.0 138.2h0M300.3 139.7h0M311.9 151.8h0M286.5 152.0h0M297.0 135.6h0M303.6 142.8h0M308.6 146.8h0M286.9 140.5h0M284.3 149.4h0M284.5 150.5h0M285.5 143.2h0M287.3 141.5h0M307.7 147.3h0M287.1 139.8h0M304.9 133.9h0M299.8 142.0h0M308.8 139.6h0M312.1 148.4h0M306.2 140.7h0M297.3 152.2h0M297.5 148.9h0M301.2 143.7h0M298.5 151.8h0M287.4 141.4h0M303.5 130.7h0M306.7 148.4h0M296.9 143.8h0M307.1 146.3h0M310.5 144.3h0M295.2 144.4h0M294.0 130.5h0M285.0 146.2h0M285.9 139.6h0M288.0 150.7h0M296.0 141.5h0M305.9 145.2h0M292.2 146.8h0M309.5 149.7h0M283.9 133.8h0M297.7 150.9h0M287.6 133.7h0M305.5 151.7h0M303.3 149.7h0M296.6 141.4h0M285.1 132.4h0M293.4 150.8h0M306.4 151.2h0M284.7 140.3h0M297.3 133.4h0M306.7 149.8h0M284.9 141.5h0M297.3 148.2h0M310.4 149.8h0M302.4 151.7h0M310.6 132.0h0M301.6 147.8h0M304.7 133.3h0M306.8 152.0h0M298.3 150.8h0M299.6 132.0h0M308.9 149.1h0M299.7 147.8h0M288.5 137.8h0M305.8 147.5h0M295.9 139.1h0M304.8 144.8h0M287.1 151.4h0M288.6 135.5h0M298.1 140.4h0M294.2 146.8h0M288.7 131.2h0M301.3 151.0h0M304.1 141.6h0M301.5 137.1h0M301.4 134.1h0M311.9 146.0h0M302.5 146.7h0M295.6 146.9h0M302.5 147.2h0M293.9 135.0h0M307.0 139.6h0M308.2 146.5h0M302.4 149.1h0M292.8 151.3h0M306.9 132.8h0M292.4 146.6h0M287.0 150.8h0M302.2 133.7h0M286.1 149.0h0M305.8 149.5h0M309.2 147.2h0M297.4 149.9h0M292.1 145.7h0M291.7 138.2h0M284.5 140.6h0M307.0 147.7h0M289.2 151.1h0M285.9 136.5h0M301.2 152.2h0M296.8 141.6h0M292.9 152.0h0M295.9 147.1h0M312.0 147.0h0M310.5 134.4h0M300.4 151.0h0M307.2 151.5h0M299.9 151.4h0M286.3 146.0h0M288.2 130.7h0M300.5 133.5h0M311.5 137.4h0M302.5 144.6h0M306.3 139.8h0M288.2 143.3h0M295.7 143.6h0M304.4 139.3h0M300.2 136.6h0M307.7 151.4h0M287.8 151.9h0M288.3 131.7h0M292.6 145.3h0M297.2 142.4h0M291.8 136.9h0M293.3 135.0h0M307.1 152.2h0M299.6 151.4h0M309.4 151.7h0M291.4 137.2h0M300.9 139.9h0M296.7 78.2h0M289.4 117.4h0M293.8 117.4h0M302.6 118.6h0M309.9 122.4h0M305.5 118.0h0M288.0 123.6h0M340.1 145.2h0M345.5 129.1h0M346.1 146.3h0M350.8 149.0h0M344.7 144.0h0M341.9 139.3h0M346.6 134.5h0M345.3 129.5h0M343.0 141.0h0M343.5 149.7h0M344.7 131.7h0M344.5 142.0h0M348.2 146.5h0M348.4 149.3h0M345.4 146.1h0M352.8 136.0h0M351.0 140.0h0M353.6 136.8h0M340.8 148.5h0M351.7 134.1h0M355.5 136.2h0M342.4 140.1h0M349.8 139.7h0M342.0 129.2h0M348.0 146.5h0M355.4 144.7h0M341.0 137.4h0M344.0 147.2h0M344.7 139.3h0M345.0 137.9h0M354.2 130.5h0M353.9 132.3h0M343.9 133.6h0M341.3 139.6h0M341.1 148.9h0M354.9 148.7h0M351.2 141.6h0M339.9 134.0h0M340.9 131.5h0M352.8 142.3h0M347.0 149.6h0M351.0 149.5h0M348.2 131.4h0M350.6 148.7h0M351.3 137.6h0M345.1 135.2h0M349.0 143.8h0M348.2 146.4h0M344.4 131.9h0M345.4 135.2h0M345.7 147.7h0M339.9 129.1h0M351.8 130.3h0M349.2 149.3h0M342.5 149.4h0M349.6 139.3h0M355.0 146.2h0M343.6 147.2h0M342.2 149.6h0M347.7 143.6h0M345.7 130.3h0M344.9 133.6h0M348.3 148.9h0M340.4 138.9h0M353.7 149.4h0M351.0 147.1h0M350.8 134.2h0M351.4 146.9h0M342.4 129.3h0M354.4 132.3h0M348.4 149.4h0M345.7 131.5h0M341.0 145.8h0M340.6 131.6h0M345.5 149.1h0M345.5 147.5h0M346.7 139.2h0M350.3 149.0h0M348.3 149.4h0M346.9 134.4h0M344.0 133.7h0M343.8 144.0h0M352.4 149.7h0M348.7 141.2h0M351.2 131.2h0M350.9 147.3h0M343.0 142.1h0M344.3 140.5h0M341.3 136.8h0M346.5 149.4h0M341.8 130.2h0M353.3 133.3h0M346.1 129.4h0M342.6 136.1h0M354.8 147.6h0M340.0 148.5h0M354.1 96.2h0M344.6 106.2h0M342.3 123.6h0M347.8 123.6h0M412.7 141.2h0M386.3 142.4h0M422.4 134.2h0M399.0 142.4h0M409.9 131.4h0M413.5 145.2h0M413.2 147.6h0M385.5 146.5h0M387.9 144.7h0M392.1 133.8h0M398.5 135.4h0M420.2 139.2h0M412.7 140.1h0M397.0 150.7h0M408.1 129.5h0M409.3 144.8h0M402.4 145.6h0M396.7 137.1h0M380.3 148.3h0M401.8 149.4h0M411.2 145.6h0M397.2 148.8h0M405.4 143.3h0M409.1 142.5h0M413.4 138.4h0M384.5 147.1h0M390.8 149.4h0M420.4 138.5h0M411.5 147.2h0M406.8 148.7h0M389.4 152.3h0M381.1 138.2h0M421.1 141.0h0M380.5 142.7h0M408.2 149.3h0M412.7 148.1h0M389.9 138.9h0M412.7 145.6h0M401.7 134.9h0M405.7 141.0h0M387.9 153.2h0M388.0 145.5h0M405.4 142.6h0M407.1 139.7h0M407.5 143.2h0M415.9 138.3h0M417.5 124.5h0M415.3 131.8h0M409.4 139.4h0M390.5 152.3h0M408.2 146.4h0M406.1 140.3h0M405.9 143.2h0M390.2 149.4h0M409.7 130.1h0M393.6 148.4h0M399.1 144.8h0M406.9 134.7h0M412.7 131.5h0M410.9 127.0h0M399.1 144.5h0M407.8 145.2h0M415.3 141.2h0M403.7 141.7h0M395.5 152.1h0M391.9 145.6h0M420.5 145.6h0M418.5 124.6h0M413.7 144.5h0M380.8 138.9h0M382.9 151.1h0M420.0 133.4h0M415.1 130.0h0M387.6 146.0h0M384.0 149.4h0M401.1 134.6h0M392.3 141.1h0M386.0 151.1h0M382.5 145.7h0M405.0 136.4h0M397.9 132.2h0M410.8 138.7h0M417.2 145.6h0M392.4 143.8h0M405.5 129.2h0M408.9 149.1h0M420.2 138.8h0M388.8 139.7h0M406.8 131.9h0M403.5 147.3h0M400.0 143.8h0M395.0 142.4h0M386.4 151.1h0M385.0 154.2h0M402.4 136.5h0M397.2 133.4h0M405.9 137.6h0M392.2 135.0h0M394.8 135.7h0M390.4 134.1h0M409.1 147.3h0M411.2 147.3h0M396.4 146.5h0M394.3 147.4h0M386.8 148.4h0M384.0 140.2h0M395.1 139.2h0M398.2 130.9h0M417.5 133.1h0M415.8 127.3h0M419.6 140.3h0M405.3 149.6h0M395.5 147.7h0M406.5 149.9h0M412.1 148.2h0M398.0 143.9h0M415.9 135.6h0M386.3 142.7h0M390.0 142.9h0M397.6 131.7h0M399.1 147.9h0M393.2 133.0h0M394.8 149.4h0M402.8 138.1h0M420.1 146.4h0M394.0 139.2h0M401.1 138.0h0M408.7 148.6h0M382.1 153.2h0M393.0 150.8h0M392.2 151.8h0M381.1 147.2h0M412.3 147.0h0M384.0 141.8h0M383.4 153.4h0M400.9 147.1h0M413.4 139.6h0M402.3 145.2h0M381.2 140.4h0M396.6 135.7h0M384.5 148.3h0M403.0 149.0h0M383.2 136.8h0M420.0 123.2h0M403.2 136.4h0M405.6 142.2h0M387.3 143.0h0M398.9 139.0h0M381.8 151.4h0M384.8 140.8h0M400.4 147.4h0M413.3 139.2h0M392.4 147.2h0M380.1 154.9h0M381.6 136.6h0M417.4 137.6h0M420.1 137.0h0M409.0 148.4h0M398.6 140.8h0M397.4 140.0h0M394.6 140.7h0M388.9 146.0h0M398.2 142.9h0M382.3 152.2h0M410.5 147.2h0M400.3 129.7h0M406.0 135.5h0M412.8 126.5h0M396.5 146.2h0M412.2 148.6h0M400.0 147.8h0M403.7 136.2h0M416.7 138.7h0M409.5 148.7h0M408.1 129.2h0M406.2 141.7h0M401.8 144.6h0M387.6 151.7h0M413.9 139.2h0M381.6 145.1h0M415.4 135.3h0M387.7 134.9h0M387.8 145.9h0M399.6 149.6h0M391.4 151.0h0M387.1 153.6h0M407.5 137.0h0M390.7 134.0h0M398.0 144.5h0M419.5 134.2h0M399.8 136.9h0M411.5 144.5h0M383.0 142.0h0M411.9 137.6h0M385.0 141.2h0M387.5 139.1h0M406.5 138.0h0M383.2 149.9h0M411.2 147.9h0M381.6 149.3h0M416.3 135.6h0M389.8 152.7h0M415.7 129.6h0M409.9 146.7h0M412.0 148.8h0M387.3 149.7h0M420.8 146.8h0M386.9 140.9h0M412.5 145.0h0M383.2 138.9h0M421.3 125.8h0M404.1 149.7h0M411.5 136.3h0M415.4 132.2h0M401.4 129.9h0M399.7 144.3h0M407.1 133.7h0M405.0 129.8h0M391.6 135.3h0M417.4 142.3h0M381.2 145.5h0M406.4 128.8h0M403.8 136.4h0M412.4 146.8h0M408.4 142.4h0M389.2 150.1h0M395.5 138.5h0M403.5 146.0h0M382.4 140.8h0M412.1 130.8h0M413.5 148.0h0M392.0 145.8h0M392.7 136.9h0M388.7 153.5h0M399.2 151.1h0M381.2 145.4h0M405.7 140.6h0M383.0 146.0h0M402.3 146.6h0M389.5 151.9h0M400.6 145.8h0M404.9 137.5h0M391.8 142.6h0M391.0 139.4h0M394.9 107.4h0M418.3 101.2h0M418.3 109.9h0M386.4 117.4h0M403.4 118.6h0M409.8 119.9h0M382.1 128.6h0M450.3 155.4h0M459.3 148.8h0M464.5 139.5h0M456.4 152.9h0M453.2 146.1h0M457.2 154.8h0M452.8 152.6h0M469.1 148.5h0M468.6 148.1h0M462.7 152.9h0M458.3 145.4h0M450.0 152.6h0M454.3 154.3h0M456.5 155.1h0M462.5 155.3h0M454.0 154.8h0M452.5 144.1h0M465.3 140.2h0M451.3 156.5h0M455.9 150.3h0M469.1 140.7h0M469.7 153.7h0M448.6 155.0h0M458.8 156.4h0M456.8 155.9h0M470.1 151.7h0M456.0 155.5h0M469.4 153.0h0M459.1 154.2h0M454.2 139.9h0M466.0 143.4h0M456.9 139.8h0M472.4 144.1h0M453.7 157.4h0M461.7 149.3h0M469.8 136.8h0M468.6 151.6h0M472.9 144.5h0M448.9 156.8h0M472.3 140.9h0M466.7 144.8h0M448.5 142.5h0M455.5 144.9h0M461.6 149.3h0M461.3 140.4h0M469.1 149.2h0M469.6 152.3h0M456.8 153.3h0M449.1 153.8h0M448.0 141.8h0M468.7 147.9h0M449.5 155.9h0M467.5 151.2h0M450.3 153.0h0M462.6 154.5h0M457.5 149.0h0M466.8 149.6h0M473.1 150.4h0M467.0 153.9h0M471.1 146.1h0M452.3 144.6h0M470.3 152.6h0M470.3 137.6h0M456.9 144.2h0M466.2 146.8h0M457.7 153.2h0M468.6 141.9h0M471.9 152.8h0M462.4 144.9h0M453.4 157.6h0M470.6 141.5h0M466.0 150.9h0M459.0 143.3h0M450.3 147.1h0M465.9 148.8h0M472.1 144.3h0M470.3 151.9h0M458.3 153.4h0M460.6 144.2h0M473.1 138.2h0M469.6 137.4h0M466.5 143.3h0M450.2 153.4h0M460.3 155.3h0M470.8 149.2h0M454.1 157.0h0M461.5 151.9h0M472.0 144.2h0M458.8 155.1h0M449.1 148.1h0M463.4 148.8h0M460.8 150.9h0M470.9 153.1h0M453.8 144.8h0M455.9 153.3h0M458.9 153.2h0M467.2 153.7h0M462.0 144.8h0M456.6 145.6h0M456.9 147.8h0M450.5 154.8h0M462.1 146.9h0M459.7 156.0h0M461.6 141.5h0M454.8 155.4h0M463.7 153.0h0M450.5 158.0h0M463.8 140.7h0M467.5 146.1h0M470.1 140.2h0M454.7 152.8h0M472.6 137.5h0M464.2 146.0h0M456.6 156.3h0M456.3 154.7h0M463.9 145.6h0M463.9 140.0h0M447.9 157.1h0M450.4 154.0h0M471.1 147.5h0M468.2 152.5h0M456.9 144.0h0M455.3 145.9h0M463.1 145.8h0M448.6 154.6h0M472.9 148.7h0M455.0 139.7h0M462.9 145.0h0M460.2 147.1h0M457.8 153.8h0M455.3 155.0h0M465.5 154.2h0M450.9 151.4h0M473.0 141.0h0M464.9 143.6h0M453.1 150.8h0M448.3 151.7h0M448.7 158.0h0M451.0 154.3h0M460.0 154.0h0M449.9 157.6h0M472.0 136.6h0M471.1 152.3h0M453.0 143.0h0M448.3 157.7h0M464.4 138.6h0M471.4 140.0h0M456.0 145.6h0M471.7 138.7h0M465.7 98.1h0M470.8 103.7h0M469.5 118.6h0M469.5 132.3h0M449.2 126.1h0M449.2 129.8h0M454.1 144.1h0M454.1 136.1h0M454.2 131.0h0M455.0 122.9h0M453.9 116.1h0"/>
<line x1="346.6" y1="73" x2="346.6" y2="197" stroke="#d2d2d2" stroke-width="1.7"/>
<rect x="48" y="72.8" width="432.5" height="124.2" fill="none" stroke="#6e6e6e" stroke-width="1.2"/>
<line x1="45.5" y1="197.0" x2="48" y2="197.0" stroke="#6e6e6e" stroke-width="1"/>
<text x="41.3" y="201.4" font-size="12.4" text-anchor="end">0</text>
<line x1="45.5" y1="184.6" x2="48" y2="184.6" stroke="#6e6e6e" stroke-width="1"/>
<text x="41.3" y="189.0" font-size="12.4" text-anchor="end">1</text>
<line x1="45.5" y1="172.1" x2="48" y2="172.1" stroke="#6e6e6e" stroke-width="1"/>
<text x="41.3" y="176.5" font-size="12.4" text-anchor="end">2</text>
<line x1="45.5" y1="159.7" x2="48" y2="159.7" stroke="#6e6e6e" stroke-width="1"/>
<text x="41.3" y="164.1" font-size="12.4" text-anchor="end">3</text>
<line x1="45.5" y1="147.2" x2="48" y2="147.2" stroke="#6e6e6e" stroke-width="1"/>
<text x="41.3" y="151.6" font-size="12.4" text-anchor="end">4</text>
<line x1="45.5" y1="134.8" x2="48" y2="134.8" stroke="#6e6e6e" stroke-width="1"/>
<text x="41.3" y="139.2" font-size="12.4" text-anchor="end">5</text>
<line x1="45.5" y1="122.4" x2="48" y2="122.4" stroke="#6e6e6e" stroke-width="1"/>
<text x="41.3" y="126.8" font-size="12.4" text-anchor="end">6</text>
<line x1="45.5" y1="109.9" x2="48" y2="109.9" stroke="#6e6e6e" stroke-width="1"/>
<text x="41.3" y="114.3" font-size="12.4" text-anchor="end">7</text>
<line x1="45.5" y1="97.5" x2="48" y2="97.5" stroke="#6e6e6e" stroke-width="1"/>
<text x="41.3" y="101.9" font-size="12.4" text-anchor="end">8</text>
<line x1="45.5" y1="85.0" x2="48" y2="85.0" stroke="#6e6e6e" stroke-width="1"/>
<text x="41.3" y="89.4" font-size="12.4" text-anchor="end">9</text>
<line x1="45.5" y1="72.6" x2="48" y2="72.6" stroke="#6e6e6e" stroke-width="1"/>
<text x="41.3" y="77.0" font-size="12.4" text-anchor="end">10</text>
<text transform="translate(22,131.5) rotate(-90)" font-size="13.4" text-anchor="middle">-Log<tspan font-size="9" dy="3">10</tspan><tspan dy="-3">(</tspan><tspan font-style="italic">P</tspan>)</text>
<text x="48.0" y="213.7" font-size="13" text-anchor="middle">Chr.1</text>
<text x="78.0" y="213.7" font-size="13" text-anchor="middle">2</text>
<text x="106.8" y="213.7" font-size="13" text-anchor="middle">3</text>
<text x="129.2" y="213.7" font-size="13" text-anchor="middle">4</text>
<text x="152.0" y="213.7" font-size="13" text-anchor="middle">5</text>
<text x="180.5" y="213.7" font-size="13" text-anchor="middle">6</text>
<text x="202.2" y="213.7" font-size="13" text-anchor="middle">7</text>
<text x="220.0" y="213.7" font-size="13" text-anchor="middle">8</text>
<text x="242.6" y="213.7" font-size="13" text-anchor="middle">9</text>
<text x="271.3" y="213.7" font-size="13" text-anchor="middle">10</text>
<text x="300.2" y="213.7" font-size="13" text-anchor="middle">11</text>
<text x="329.8" y="213.7" font-size="13" text-anchor="middle">12</text>
<text x="351.0" y="213.7" font-size="13" text-anchor="middle">13</text>
<text x="371.2" y="213.7" font-size="13" text-anchor="middle">14</text>
<text x="405.0" y="213.7" font-size="13" text-anchor="middle">15</text>
<text x="439.2" y="213.7" font-size="13" text-anchor="middle">16</text>
<text x="463.0" y="213.7" font-size="13" text-anchor="middle">17</text>
<line x1="60.5" y1="197" x2="60.5" y2="200" stroke="#6e6e6e" stroke-width="1"/>
<line x1="79.6" y1="197" x2="79.6" y2="200" stroke="#6e6e6e" stroke-width="1"/>
<line x1="106.5" y1="197" x2="106.5" y2="200" stroke="#6e6e6e" stroke-width="1"/>
<line x1="129.0" y1="197" x2="129.0" y2="200" stroke="#6e6e6e" stroke-width="1"/>
<line x1="152.0" y1="197" x2="152.0" y2="200" stroke="#6e6e6e" stroke-width="1"/>
<line x1="179.7" y1="197" x2="179.7" y2="200" stroke="#6e6e6e" stroke-width="1"/>
<line x1="201.2" y1="197" x2="201.2" y2="200" stroke="#6e6e6e" stroke-width="1"/>
<line x1="219.6" y1="197" x2="219.6" y2="200" stroke="#6e6e6e" stroke-width="1"/>
<line x1="241.6" y1="197" x2="241.6" y2="200" stroke="#6e6e6e" stroke-width="1"/>
<line x1="268.0" y1="197" x2="268.0" y2="200" stroke="#6e6e6e" stroke-width="1"/>
<line x1="298.0" y1="197" x2="298.0" y2="200" stroke="#6e6e6e" stroke-width="1"/>
<line x1="326.5" y1="197" x2="326.5" y2="200" stroke="#6e6e6e" stroke-width="1"/>
<line x1="348.0" y1="197" x2="348.0" y2="200" stroke="#6e6e6e" stroke-width="1"/>
<line x1="368.0" y1="197" x2="368.0" y2="200" stroke="#6e6e6e" stroke-width="1"/>
<line x1="401.3" y1="197" x2="401.3" y2="200" stroke="#6e6e6e" stroke-width="1"/>
<line x1="435.3" y1="197" x2="435.3" y2="200" stroke="#6e6e6e" stroke-width="1"/>
<line x1="460.5" y1="197" x2="460.5" y2="200" stroke="#6e6e6e" stroke-width="1"/>
<text x="336" y="65.5" font-size="15.5">PbrMADS1</text>
<line x1="345.5" y1="72.5" x2="351" y2="67.8" stroke="#000" stroke-width="2.8"/>
</g>
<text x="188.5" y="232" font-size="15.6">Stone cell content</text>
<line x1="172" y1="237.3" x2="375.7" y2="237.3" stroke="#000" stroke-width="2.6"/>
<line x1="317" y1="237.3" x2="345.5" y2="203" stroke="#000" stroke-width="2.9"/>
<defs>
<radialGradient id="sl1"><stop offset="0" stop-color="#a8a070"/><stop offset="0.1" stop-color="#cdc898"/><stop offset="0.34" stop-color="#c8c296"/><stop offset="0.5" stop-color="#c0a286"/><stop offset="0.62" stop-color="#b6a882"/><stop offset="0.9" stop-color="#b0a47e"/><stop offset="1" stop-color="#8e8262"/></radialGradient>
<radialGradient id="sl2"><stop offset="0" stop-color="#9a9060"/><stop offset="0.1" stop-color="#cfc898"/><stop offset="0.3" stop-color="#cbc296"/><stop offset="0.4" stop-color="#b87868"/><stop offset="0.48" stop-color="#b0585e"/><stop offset="0.6" stop-color="#b08a78"/><stop offset="0.9" stop-color="#b09a7c"/><stop offset="1" stop-color="#7e6a5a"/></radialGradient>
<radialGradient id="sl3"><stop offset="0" stop-color="#b8b080"/><stop offset="0.08" stop-color="#e8e0c0"/><stop offset="0.24" stop-color="#e2d8b8"/><stop offset="0.32" stop-color="#a85468"/><stop offset="0.5" stop-color="#9c4458"/><stop offset="0.85" stop-color="#a4586a"/><stop offset="1" stop-color="#7a3e4c"/></radialGradient>
</defs>
<ellipse cx="199.2" cy="273.3" rx="27.5" ry="28.4" fill="url(#sl1)"/>
<ellipse cx="267.2" cy="273.3" rx="29.7" ry="28.4" fill="url(#sl2)"/>
<ellipse cx="339.8" cy="272" rx="27.5" ry="28.4" fill="url(#sl3)"/>
<rect x="259" y="370.7" width="168" height="120" fill="#7a9b70"/>
<rect x="259" y="490.6" width="168" height="159.4" fill="#a1ab6f"/>
<rect x="259" y="650" width="168" height="40.8" fill="#d6c27a"/>
<rect x="259" y="690.8" width="168" height="166.2" fill="#f8cd85"/>
<line x1="22.6" y1="436.7" x2="52.0" y2="436.7" stroke="#111" stroke-width="1.55" stroke-linecap="square"/>
<line x1="52.0" y1="350.0" x2="52.0" y2="523.0" stroke="#111" stroke-width="1.55" stroke-linecap="square"/>
<line x1="52.0" y1="350.0" x2="260.0" y2="350.0" stroke="#111" stroke-width="1.55" stroke-linecap="square"/>
<line x1="52.0" y1="523.0" x2="82.4" y2="523.0" stroke="#111" stroke-width="1.55" stroke-linecap="square"/>
<line x1="82.4" y1="420.4" x2="82.4" y2="625.8" stroke="#111" stroke-width="1.55" stroke-linecap="square"/>
<line x1="82.4" y1="420.4" x2="200.5" y2="420.4" stroke="#111" stroke-width="1.55" stroke-linecap="square"/>
<line x1="200.5" y1="389.8" x2="200.5" y2="450.0" stroke="#111" stroke-width="1.55" stroke-linecap="square"/>
<line x1="200.5" y1="389.8" x2="260.0" y2="389.8" stroke="#111" stroke-width="1.55" stroke-linecap="square"/>
<line x1="200.5" y1="450.0" x2="230.0" y2="450.0" stroke="#111" stroke-width="1.55" stroke-linecap="square"/>
<line x1="230.0" y1="430.5" x2="230.0" y2="470.0" stroke="#111" stroke-width="1.55" stroke-linecap="square"/>
<line x1="230.0" y1="430.5" x2="260.0" y2="430.5" stroke="#111" stroke-width="1.55" stroke-linecap="square"/>
<line x1="230.0" y1="470.0" x2="260.0" y2="470.0" stroke="#111" stroke-width="1.55" stroke-linecap="square"/>
<line x1="82.4" y1="625.8" x2="111.2" y2="625.8" stroke="#111" stroke-width="1.55" stroke-linecap="square"/>
<line x1="111.2" y1="544.8" x2="111.2" y2="707.5" stroke="#111" stroke-width="1.55" stroke-linecap="square"/>
<line x1="111.2" y1="544.8" x2="171.0" y2="544.8" stroke="#111" stroke-width="1.55" stroke-linecap="square"/>
<line x1="171.0" y1="510.0" x2="171.0" y2="579.6" stroke="#111" stroke-width="1.55" stroke-linecap="square"/>
<line x1="171.0" y1="510.0" x2="260.0" y2="510.0" stroke="#111" stroke-width="1.55" stroke-linecap="square"/>
<line x1="171.0" y1="579.6" x2="200.5" y2="579.6" stroke="#111" stroke-width="1.55" stroke-linecap="square"/>
<line x1="200.5" y1="549.7" x2="200.5" y2="609.8" stroke="#111" stroke-width="1.55" stroke-linecap="square"/>
<line x1="200.5" y1="549.7" x2="260.0" y2="549.7" stroke="#111" stroke-width="1.55" stroke-linecap="square"/>
<line x1="200.5" y1="609.8" x2="230.0" y2="609.8" stroke="#111" stroke-width="1.55" stroke-linecap="square"/>
<line x1="230.0" y1="589.6" x2="230.0" y2="630.0" stroke="#111" stroke-width="1.55" stroke-linecap="square"/>
<line x1="230.0" y1="589.6" x2="260.0" y2="589.6" stroke="#111" stroke-width="1.55" stroke-linecap="square"/>
<line x1="230.0" y1="630.0" x2="260.0" y2="630.0" stroke="#111" stroke-width="1.55" stroke-linecap="square"/>
<line x1="111.2" y1="707.5" x2="141.5" y2="707.5" stroke="#111" stroke-width="1.55" stroke-linecap="square"/>
<line x1="141.5" y1="670.0" x2="141.5" y2="744.7" stroke="#111" stroke-width="1.55" stroke-linecap="square"/>
<line x1="141.5" y1="670.0" x2="260.0" y2="670.0" stroke="#111" stroke-width="1.55" stroke-linecap="square"/>
<line x1="141.5" y1="744.7" x2="171.0" y2="744.7" stroke="#111" stroke-width="1.55" stroke-linecap="square"/>
<line x1="171.0" y1="710.3" x2="171.0" y2="780.0" stroke="#111" stroke-width="1.55" stroke-linecap="square"/>
<line x1="171.0" y1="710.3" x2="260.0" y2="710.3" stroke="#111" stroke-width="1.55" stroke-linecap="square"/>
<line x1="171.0" y1="780.0" x2="200.5" y2="780.0" stroke="#111" stroke-width="1.55" stroke-linecap="square"/>
<line x1="200.5" y1="750.2" x2="200.5" y2="809.7" stroke="#111" stroke-width="1.55" stroke-linecap="square"/>
<line x1="200.5" y1="750.2" x2="260.0" y2="750.2" stroke="#111" stroke-width="1.55" stroke-linecap="square"/>
<line x1="200.5" y1="809.7" x2="230.0" y2="809.7" stroke="#111" stroke-width="1.55" stroke-linecap="square"/>
<line x1="230.0" y1="789.9" x2="230.0" y2="829.8" stroke="#111" stroke-width="1.55" stroke-linecap="square"/>
<line x1="230.0" y1="789.9" x2="260.0" y2="789.9" stroke="#111" stroke-width="1.55" stroke-linecap="square"/>
<line x1="230.0" y1="829.8" x2="260.0" y2="829.8" stroke="#111" stroke-width="1.55" stroke-linecap="square"/>
<text x="263.5" y="353.1" font-size="15.6" textLength="118.5" lengthAdjust="spacingAndGlyphs"><tspan font-style="italic">V. vinifera</tspan> (grape)</text>
<text x="261.0" y="392.9" font-size="15.6"><tspan font-style="italic">F. vesca</tspan> (strawberry)</text>
<text x="261" y="428.3" font-size="15.6"><tspan font-style="italic">R. corchorifolius</tspan></text>
<text x="286.8" y="447.6" font-size="15.6">(Shanmei)</text>
<text x="261.0" y="473.1" font-size="15.6"><tspan font-style="italic">R. idaeus</tspan> (raspberry)</text>
<text x="261.0" y="513.1" font-size="15.6"><tspan font-style="italic">P. avium</tspan> (cherry)</text>
<text x="261.0" y="552.8" font-size="15.6"><tspan font-style="italic">P. persica</tspan> (peach)</text>
<text x="261.0" y="592.7" font-size="15.6"><tspan font-style="italic">P. salicina</tspan> (plum)</text>
<text x="261.0" y="633.1" font-size="15.6"><tspan font-style="italic">P. armeniaca</tspan> (apricot)</text>
<text x="261.0" y="673.1" font-size="15.6"><tspan font-style="italic">G. trifoliata</tspan></text>
<text x="261.0" y="713.4" font-size="15.6" textLength="166.5" lengthAdjust="spacingAndGlyphs"><tspan font-style="italic">C. pinnatifida</tspan> (hawthorn)</text>
<text x="261.0" y="753.3" font-size="15.6"><tspan font-style="italic">E. japonica</tspan> (loquat)</text>
<text x="261.0" y="793.0" font-size="15.6"><tspan font-style="italic">P. bretschneideri</tspan> (pear)</text>
<text x="261.0" y="832.9" font-size="15.6"><tspan font-style="italic">M. domestica</tspan> (apple)</text>
<text x="295" y="410.6" font-size="13">X = 7</text>
<text x="295" y="458.8" font-size="13">X = 7</text>
<text x="295" y="487.1" font-size="13">X = 7</text>
<text x="295" y="527.7" font-size="13">X = 8</text>
<text x="295" y="569.8" font-size="13">X = 8</text>
<text x="295" y="606.7" font-size="13">X = 8</text>
<text x="295" y="647.1" font-size="13">X = 8</text>
<text x="295" y="688.7" font-size="13">X = 9</text>
<text x="295" y="729.7" font-size="13">X = 17</text>
<text x="295" y="770.3" font-size="13">X = 17</text>
<text x="295" y="812.0" font-size="13">X = 17</text>
<text x="295" y="848.2" font-size="13">X = 17</text>
<text x="82" y="414" font-size="15.5">Rosoideae</text>
<text x="83" y="538" font-size="15.5">Amygdaleae</text>
<text x="143" y="664" font-size="15">Gillenieae</text>
<text x="171" y="705" font-size="15">Maleae</text>
<defs>
<linearGradient id="wedgeG" x1="0" y1="0" x2="1" y2="0">
<stop offset="0" stop-color="#e4e958"/><stop offset="0.45" stop-color="#dbe9b4"/><stop offset="0.72" stop-color="#deedd6"/><stop offset="0.88" stop-color="#eff6ec"/><stop offset="1" stop-color="#ffffff"/></linearGradient>
<linearGradient id="wedgeV" x1="0" y1="0" x2="0" y2="1">
<stop offset="0" stop-color="#fff" stop-opacity="0.6"/><stop offset="0.12" stop-color="#fff" stop-opacity="0.25"/><stop offset="0.4" stop-color="#fff" stop-opacity="0.05"/><stop offset="1" stop-color="#fff" stop-opacity="0"/></linearGradient>
<linearGradient id="coneG" x1="0" y1="0" x2="1" y2="0">
<stop offset="0" stop-color="#bcd0b6"/><stop offset="0.25" stop-color="#b9cbbc"/><stop offset="0.55" stop-color="#c7d3de"/><stop offset="0.8" stop-color="#dce2ef"/><stop offset="0.94" stop-color="#f4f5fa"/><stop offset="1" stop-color="#ffffff"/></linearGradient>
</defs>
<path d="M434.5,857 L437.5,715 L440,700 L526,175 L 521,380 L 517,640 L513,857 Z" fill="url(#wedgeG)"/>
<path d="M434.5,857 L437.5,715 L440,700 L526,175 L 521,380 L 517,640 L513,857 Z" fill="url(#wedgeV)"/>
<path d="M815.6,186.9 L921.0,104.6 L921.0,269.2 Z" fill="url(#coneG)"/>
<path d="M816.5,492.6 L912.0,408.7 L912.0,570.0 Z" fill="url(#coneG)"/>
<path d="M805.3,784.3 L911.5,707.5 L911.5,868.0 Z" fill="url(#coneG)"/>
<g><rect x="765.5" y="144.5" width="71.0" height="61.5" fill="#fffcfa"/><polygon points="778.2,157.4 787.0,153.8 816.9,166.8 815.5,180.5 803.8,196.5 792.8,196.5 779.0,184.9 776.8,176.2" fill="#f4d49c" stroke="#e6ae4c" stroke-width="2.8" stroke-linejoin="round"/><polygon points="768.0,155.2 781.2,146.6 787.0,153.8 778.2,157.4" fill="#f8e4c4" stroke="#e6ae4c" stroke-width="1.2"/><ellipse cx="790.6" cy="171.9" rx="10.2" ry="8.7" fill="#f3dfb4" stroke="#e6ae4c" stroke-width="1.2"/><circle cx="807.4" cy="175.2" r="5.8" fill="#fbeedd" stroke="#e6ae4c" stroke-width="1"/><path d="M816.9,166.8 L835.9,173.4 M824.9,147.3 L816.9,166.8 L815.5,180.5 M768.0,177.6 L776.8,176.2 M770.9,196.5 Q773.5,188.1 781.9,184.9" fill="none" stroke="#e6ae4c" stroke-width="2.7" stroke-linecap="round"/></g>
<path d="M814.3,186 L836.4,168 L836.4,204 Z" fill="#c4d9b8" opacity="0.9"/>
<rect x="765.5" y="144.5" width="71" height="61.5" fill="none" stroke="#3e8a80" stroke-width="1.6"/>
<rect x="797.6" y="176.8" width="16.7" height="16.4" fill="none" stroke="#2a7fa0" stroke-width="2"/>
<g><rect x="754.9" y="744.0" width="71.3" height="61.8" fill="#fffcfa"/><polygon points="767.7,757.0 776.5,753.4 806.5,766.4 805.1,780.2 793.4,796.2 782.3,796.2 768.5,784.6 766.2,775.9" fill="#f4d49c" stroke="#e6ae4c" stroke-width="2.8" stroke-linejoin="round"/><polygon points="757.4,754.8 770.7,746.1 776.5,753.4 767.7,757.0" fill="#f8e4c4" stroke="#e6ae4c" stroke-width="1.2"/><ellipse cx="780.1" cy="771.5" rx="10.2" ry="8.8" fill="#f3dfb4" stroke="#e6ae4c" stroke-width="1.2"/><circle cx="797.0" cy="774.9" r="5.8" fill="#fbeedd" stroke="#e6ae4c" stroke-width="1"/><path d="M806.5,766.4 L825.6,773.0 M814.6,746.8 L806.5,766.4 L805.1,780.2 M757.4,777.3 L766.2,775.9 M760.3,796.2 Q762.9,787.9 771.4,784.6" fill="none" stroke="#e6ae4c" stroke-width="2.7" stroke-linecap="round"/></g>
<path d="M803.5,785 L826.2,766 L826.2,804 Z" fill="#c4d9b8" opacity="0.9"/>
<rect x="754.9" y="744" width="71.3" height="61.8" fill="none" stroke="#3e9a90" stroke-width="1.6"/>
<rect x="787.5" y="776.8" width="16.5" height="16.6" fill="none" stroke="#2a7fa0" stroke-width="2"/>
<g>
<rect x="768.8" y="441.7" width="75" height="66.2" fill="#ffffff"/>
<path d="M783.4,464.2 C788.8,459.7 794.8,457.7 800.9,457.5 C806.8,457.2 811.8,458.7 815.0,462.5 C817.8,467.7 817.8,473.7 816.6,478.3 C815.8,483.7 813.8,487.7 813.4,489.2 C803.8,486.7 788.8,485.7 781.6,486.7 C779.8,479.7 779.8,469.7 783.4,464.2 Z" fill="#ffffff" stroke="#2a9a4a" stroke-width="4.4" stroke-linejoin="round"/>
<ellipse cx="789.8" cy="473.7" rx="8.5" ry="11" transform="rotate(15 789.8 473.7)" fill="#8cc690" opacity="0.9"/>
<ellipse cx="806.2" cy="469.2" rx="4.8" ry="4.3" fill="#a6d4a0" opacity="0.9"/>
<ellipse cx="805.8" cy="479.7" rx="4.5" ry="3.5" fill="#b8e0b0" opacity="0.9"/>
<path d="M771.6,445.8 Q776.8,455.7 783.4,464.2 M798.4,442.5 Q797.8,451.7 800.9,457.5 M823.4,442.5 Q818.8,453.7 815.0,462.5 M816.6,475.7 Q826.8,470.7 840.0,470.0 M770.0,474.2 L779.1,473.2 M770.0,499.2 L781.6,487.2 M800.0,507.5 L804.8,498.7 M823.4,507.5 Q818.8,496.7 813.4,489.2" fill="none" stroke="#2a9a4a" stroke-width="4.2" stroke-linecap="round"/>
<path d="M816.25,492 L843.75,467 L843.75,508 L836,508 Z" fill="#c4d4b8" opacity="0.95"/>
<rect x="768.8" y="441.7" width="75" height="66.2" fill="none" stroke="#1e6e3a" stroke-width="1.8"/>
<rect x="800" y="484" width="16.25" height="16" fill="none" stroke="#2a80c0" stroke-width="1.8"/>
</g>
<g transform="translate(0.0,0.0)"><defs><clipPath id="cb0"><rect x="950.6" y="91" width="306.4" height="187.6" rx="21"/></clipPath></defs><rect x="950.6" y="91" width="306.4" height="187.6" rx="21" fill="#ddebd5"/><g clip-path="url(#cb0)"><ellipse cx="1100.2" cy="96" rx="110" ry="115" fill="#e6f0e1"/><path fill="none" stroke="#6db38a" stroke-width="8.3" stroke-linecap="round" d="M994.7 96.0 L994.7 96.6 L994.7 97.2 L994.7 97.7 L994.7 98.3 L994.7 98.9 L994.8 99.5 L994.8 100.1 L994.8 100.7M995.4 109.0 L995.8 111.9 L996.2 114.9 L996.8 117.8 L997.4 120.6 L998.0 123.5 L998.8 126.4 L999.6 129.2 L1000.5 132.0M1007.6 149.0 L1009.1 151.7 L1010.6 154.3 L1012.2 156.9 L1013.9 159.5 L1015.6 162.0 L1017.4 164.5 L1019.2 166.9 L1021.2 169.2M1034.6 182.6 L1037.0 184.5 L1039.3 186.3 L1041.8 188.0 L1044.2 189.7 L1046.7 191.3 L1049.3 192.8 L1051.9 194.2 L1054.5 195.6M1070.3 202.0 L1073.3 202.8 L1076.3 203.6 L1079.3 204.3 L1082.3 204.9 L1085.3 205.4 L1088.4 205.8 L1091.4 206.1 L1094.5 206.3M1110.5 206.0 L1113.7 205.6 L1116.8 205.1 L1119.9 204.6 L1123.0 203.9 L1126.1 203.1 L1129.1 202.3 L1132.1 201.3 L1135.1 200.3M1152.6 191.9 L1154.9 190.5 L1157.1 189.0 L1159.3 187.5 L1161.4 186.0 L1163.6 184.3 L1165.6 182.7 L1167.7 180.9 L1169.7 179.2M1183.0 164.5 L1184.5 162.4 L1185.9 160.4 L1187.3 158.3 L1188.7 156.2 L1190.0 154.1 L1191.2 151.9 L1192.4 149.7 L1193.6 147.4M1200.5 130.3 L1201.4 127.3 L1202.2 124.3 L1202.9 121.3 L1203.5 118.3 L1204.1 115.2 L1204.6 112.2 L1205.0 109.1 L1205.3 106.0M1205.7 94.0 L1205.7 94.7 L1205.7 95.3 L1205.7 96.0 L1205.7 96.6 L1205.7 97.3 L1205.7 98.0 L1205.7 98.6 L1205.7 99.3"/></g><rect x="950.6" y="91" width="306.4" height="187.6" rx="21" fill="none" stroke="#6aa888" stroke-width="4.6"/><text x="1139.6" y="105.7" font-size="12.6">Nucleus</text><text x="963.7" y="194.6" font-size="13">Cytosol</text><rect x="1011.0" y="95.7" width="72.2" height="31.8" rx="10.2" fill="#c6dfc2" stroke="#1f8f42" stroke-width="2.9"/><circle cx="1019.0" cy="101.2" r="1.8" fill="#fff"/><text x="1050.1" y="115.2" font-size="13.2" style="fill:#3a9058;stroke:#3a9058" text-anchor="middle">EjSEP3</text><rect x="1024.0" y="124.6" width="44.0" height="30.5" rx="9.8" fill="#c6dfc2" stroke="#1f8f42" stroke-width="2.9"/><circle cx="1032.0" cy="130.1" r="1.8" fill="#fff"/><text x="1049.0" y="143.4" font-size="13.2" style="fill:#3a9058;stroke:#3a9058" text-anchor="middle">T63</text><rect x="1065.3" y="154.3" width="88.8" height="33.6" rx="10.8" fill="#c6dfc2" stroke="#1f8f42" stroke-width="2.9"/><circle cx="1073.3" cy="159.8" r="1.8" fill="#fff"/><text x="1112.7" y="174.7" font-size="13.2" style="fill:#3a9058;stroke:#3a9058" text-anchor="middle">EjMYB169</text><g><ellipse cx="965.9" cy="252.5" rx="4.6" ry="6.6" fill="#d2d8f0" fill-opacity="1.00" stroke="#c486bc" stroke-width="1.8" opacity="0.85"/><ellipse cx="973.6" cy="252.5" rx="4.6" ry="6.6" fill="#d2d8f0" fill-opacity="1.00" stroke="#c486bc" stroke-width="1.8" opacity="0.85"/><ellipse cx="981.4" cy="252.5" rx="4.6" ry="6.6" fill="#d2d8f0" fill-opacity="1.00" stroke="#c486bc" stroke-width="1.8" opacity="0.85"/><ellipse cx="989.1" cy="252.5" rx="4.6" ry="6.6" fill="#d2d8f0" fill-opacity="1.00" stroke="#c486bc" stroke-width="1.8" opacity="0.85"/></g><rect x="995.5" y="241.3" width="48.3" height="24.2" fill="#fff" stroke="#1e9a4a" stroke-width="3.3" stroke-dasharray="8 4.5"/><text x="1003.9" y="257.8" font-size="13" textLength="31.4" lengthAdjust="spacingAndGlyphs">4CL1</text><g><ellipse cx="1054.2" cy="252.5" rx="5.6" ry="6.6" fill="#d2d8f0" fill-opacity="1.00" stroke="#c486bc" stroke-width="1.8" opacity="0.85"/><ellipse cx="1063.6" cy="252.5" rx="5.6" ry="6.6" fill="#d2d8f0" fill-opacity="1.00" stroke="#c486bc" stroke-width="1.8" opacity="0.85"/><ellipse cx="1072.9" cy="252.5" rx="5.6" ry="6.6" fill="#d2d8f0" fill-opacity="1.00" stroke="#c486bc" stroke-width="1.8" opacity="0.85"/><ellipse cx="1082.3" cy="252.5" rx="5.6" ry="6.6" fill="#d2d8f0" fill-opacity="1.00" stroke="#c486bc" stroke-width="1.8" opacity="0.85"/></g><rect x="1093.5" y="241.3" width="59.0" height="24.2" fill="#fff" stroke="#1e9a4a" stroke-width="3.3" stroke-dasharray="8 4.5"/><text x="1097.0" y="257.8" font-size="13" textLength="52.0" lengthAdjust="spacingAndGlyphs">CCOAMT1</text><g><ellipse cx="1160.2" cy="252.5" rx="4.6" ry="6.6" fill="#d2d8f0" fill-opacity="1.00" stroke="#c486bc" stroke-width="1.8" opacity="0.85"/><ellipse cx="1167.9" cy="252.5" rx="4.6" ry="6.6" fill="#d2d8f0" fill-opacity="1.00" stroke="#c486bc" stroke-width="1.8" opacity="0.85"/><ellipse cx="1175.7" cy="252.5" rx="4.6" ry="6.6" fill="#d2d8f0" fill-opacity="1.00" stroke="#c486bc" stroke-width="1.8" opacity="0.85"/><ellipse cx="1183.4" cy="252.5" rx="4.6" ry="6.6" fill="#d2d8f0" fill-opacity="1.00" stroke="#c486bc" stroke-width="1.8" opacity="0.85"/><ellipse cx="1191.1" cy="252.5" rx="4.6" ry="6.6" fill="#d2d8f0" fill-opacity="1.00" stroke="#c486bc" stroke-width="1.8" opacity="0.85"/></g><rect x="1198.2" y="241.3" width="54.0" height="24.2" fill="#fff" stroke="#1e9a4a" stroke-width="3.3" stroke-dasharray="8 4.5"/><text x="1206.2" y="257.8" font-size="13" textLength="38.0" lengthAdjust="spacingAndGlyphs">CCR21</text></g>
<g transform="translate(-2.5,602.3)"><defs><clipPath id="cb602"><rect x="950.6" y="91" width="306.4" height="187.6" rx="21"/></clipPath></defs><rect x="950.6" y="91" width="306.4" height="187.6" rx="21" fill="#ddebd5"/><g clip-path="url(#cb602)"><ellipse cx="1100.2" cy="96" rx="110" ry="115" fill="#e6f0e1"/><path fill="none" stroke="#6db38a" stroke-width="8.3" stroke-linecap="round" d="M994.7 96.0 L994.7 96.6 L994.7 97.2 L994.7 97.7 L994.7 98.3 L994.7 98.9 L994.8 99.5 L994.8 100.1 L994.8 100.7M995.4 109.0 L995.8 111.9 L996.2 114.9 L996.8 117.8 L997.4 120.6 L998.0 123.5 L998.8 126.4 L999.6 129.2 L1000.5 132.0M1007.6 149.0 L1009.1 151.7 L1010.6 154.3 L1012.2 156.9 L1013.9 159.5 L1015.6 162.0 L1017.4 164.5 L1019.2 166.9 L1021.2 169.2M1034.6 182.6 L1037.0 184.5 L1039.3 186.3 L1041.8 188.0 L1044.2 189.7 L1046.7 191.3 L1049.3 192.8 L1051.9 194.2 L1054.5 195.6M1070.3 202.0 L1073.3 202.8 L1076.3 203.6 L1079.3 204.3 L1082.3 204.9 L1085.3 205.4 L1088.4 205.8 L1091.4 206.1 L1094.5 206.3M1110.5 206.0 L1113.7 205.6 L1116.8 205.1 L1119.9 204.6 L1123.0 203.9 L1126.1 203.1 L1129.1 202.3 L1132.1 201.3 L1135.1 200.3M1152.6 191.9 L1154.9 190.5 L1157.1 189.0 L1159.3 187.5 L1161.4 186.0 L1163.6 184.3 L1165.6 182.7 L1167.7 180.9 L1169.7 179.2M1183.0 164.5 L1184.5 162.4 L1185.9 160.4 L1187.3 158.3 L1188.7 156.2 L1190.0 154.1 L1191.2 151.9 L1192.4 149.7 L1193.6 147.4M1200.5 130.3 L1201.4 127.3 L1202.2 124.3 L1202.9 121.3 L1203.5 118.3 L1204.1 115.2 L1204.6 112.2 L1205.0 109.1 L1205.3 106.0M1205.7 94.0 L1205.7 94.7 L1205.7 95.3 L1205.7 96.0 L1205.7 96.6 L1205.7 97.3 L1205.7 98.0 L1205.7 98.6 L1205.7 99.3"/></g><rect x="950.6" y="91" width="306.4" height="187.6" rx="21" fill="none" stroke="#6aa888" stroke-width="4.6"/><text x="1147.1" y="107.2" font-size="12.6">Nucleus</text><text x="963.7" y="213.4" font-size="13">Cytosol</text><rect x="1011.0" y="95.7" width="72.2" height="31.8" rx="10.2" fill="#c6dfc2" stroke="#1f8f42" stroke-width="2.9"/><circle cx="1019.0" cy="101.2" r="1.8" fill="#fff"/><text x="1050.1" y="115.2" font-size="13.2" style="fill:#3a9058;stroke:#3a9058" text-anchor="middle">EjSEP3</text><rect x="1024.0" y="124.6" width="44.0" height="30.5" rx="9.8" fill="#c6dfc2" stroke="#1f8f42" stroke-width="2.9"/><circle cx="1032.0" cy="130.1" r="1.8" fill="#fff"/><text x="1049.0" y="143.4" font-size="13.2" style="fill:#3a9058;stroke:#3a9058" text-anchor="middle">T63</text><rect x="1065.3" y="154.3" width="88.8" height="33.6" rx="10.8" fill="#c6dfc2" stroke="#1f8f42" stroke-width="2.9"/><circle cx="1073.3" cy="159.8" r="1.8" fill="#fff"/><text x="1112.7" y="174.7" font-size="13.2" style="fill:#3a9058;stroke:#3a9058" text-anchor="middle">EjMYB169</text><g><ellipse cx="965.9" cy="252.5" rx="4.6" ry="6.6" fill="#d2d8f0" fill-opacity="1.00" stroke="#c486bc" stroke-width="1.8" opacity="0.85"/><ellipse cx="973.6" cy="252.5" rx="4.6" ry="6.6" fill="#d2d8f0" fill-opacity="1.00" stroke="#c486bc" stroke-width="1.8" opacity="0.85"/><ellipse cx="981.4" cy="252.5" rx="4.6" ry="6.6" fill="#d2d8f0" fill-opacity="1.00" stroke="#c486bc" stroke-width="1.8" opacity="0.85"/><ellipse cx="989.1" cy="252.5" rx="4.6" ry="6.6" fill="#d2d8f0" fill-opacity="1.00" stroke="#c486bc" stroke-width="1.8" opacity="0.85"/></g><rect x="995.5" y="241.3" width="48.3" height="24.2" fill="#fff" stroke="#1e9a4a" stroke-width="3.3" stroke-dasharray="8 4.5"/><text x="1003.9" y="257.8" font-size="13" textLength="31.4" lengthAdjust="spacingAndGlyphs">4CL1</text><g><ellipse cx="1054.2" cy="252.5" rx="5.6" ry="6.6" fill="#d2d8f0" fill-opacity="1.00" stroke="#c486bc" stroke-width="1.8" opacity="0.85"/><ellipse cx="1063.6" cy="252.5" rx="5.6" ry="6.6" fill="#d2d8f0" fill-opacity="1.00" stroke="#c486bc" stroke-width="1.8" opacity="0.85"/><ellipse cx="1072.9" cy="252.5" rx="5.6" ry="6.6" fill="#d2d8f0" fill-opacity="1.00" stroke="#c486bc" stroke-width="1.8" opacity="0.85"/><ellipse cx="1082.3" cy="252.5" rx="5.6" ry="6.6" fill="#d2d8f0" fill-opacity="1.00" stroke="#c486bc" stroke-width="1.8" opacity="0.85"/></g><rect x="1093.5" y="241.3" width="59.0" height="24.2" fill="#fff" stroke="#1e9a4a" stroke-width="3.3" stroke-dasharray="8 4.5"/><text x="1097.0" y="257.8" font-size="13" textLength="52.0" lengthAdjust="spacingAndGlyphs">CCOAMT1</text><g><ellipse cx="1160.2" cy="252.5" rx="4.6" ry="6.6" fill="#d2d8f0" fill-opacity="1.00" stroke="#c486bc" stroke-width="1.8" opacity="0.85"/><ellipse cx="1167.9" cy="252.5" rx="4.6" ry="6.6" fill="#d2d8f0" fill-opacity="1.00" stroke="#c486bc" stroke-width="1.8" opacity="0.85"/><ellipse cx="1175.7" cy="252.5" rx="4.6" ry="6.6" fill="#d2d8f0" fill-opacity="1.00" stroke="#c486bc" stroke-width="1.8" opacity="0.85"/><ellipse cx="1183.4" cy="252.5" rx="4.6" ry="6.6" fill="#d2d8f0" fill-opacity="1.00" stroke="#c486bc" stroke-width="1.8" opacity="0.85"/><ellipse cx="1191.1" cy="252.5" rx="4.6" ry="6.6" fill="#d2d8f0" fill-opacity="1.00" stroke="#c486bc" stroke-width="1.8" opacity="0.85"/></g><rect x="1198.2" y="241.3" width="54.0" height="24.2" fill="#fff" stroke="#1e9a4a" stroke-width="3.3" stroke-dasharray="8 4.5"/><text x="1206.2" y="257.8" font-size="13" textLength="38.0" lengthAdjust="spacingAndGlyphs">CCR21</text></g>
<g><defs><clipPath id="cbp"><rect x="945.9" y="372.9" width="310.6" height="241.9" rx="22.5"/></clipPath></defs><rect x="945.9" y="372.9" width="310.6" height="241.9" rx="22.5" fill="#8cc6a6"/><g clip-path="url(#cbp)"><ellipse cx="1093" cy="378" rx="109" ry="115" fill="#eef6f0"/><path fill="none" stroke="#3a9a90" stroke-width="8.3" stroke-linecap="round" d="M988.1 372.1 L988.1 373.4 L988.0 374.6 L988.0 375.9 L988.0 377.2 L988.0 378.5 L988.0 379.8 L988.0 381.1 L988.1 382.4M988.7 390.5 L989.0 393.5 L989.5 396.6 L990.0 399.6 L990.6 402.6 L991.3 405.6 L992.1 408.6 L992.9 411.5 L993.8 414.5M1001.1 431.6 L1002.4 434.2 L1003.9 436.7 L1005.4 439.1 L1006.9 441.6 L1008.6 444.0 L1010.2 446.3 L1012.0 448.6 L1013.8 450.8M1026.7 464.1 L1029.1 466.1 L1031.6 468.0 L1034.1 469.9 L1036.6 471.6 L1039.2 473.3 L1041.8 474.9 L1044.5 476.4 L1047.2 477.9M1062.6 484.2 L1066.2 485.3 L1069.7 486.2 L1073.4 487.0 L1077.0 487.7 L1080.6 488.2 L1084.3 488.6 L1088.0 488.9 L1091.7 489.0M1107.8 487.9 L1110.8 487.4 L1113.7 486.8 L1116.7 486.1 L1119.6 485.4 L1122.5 484.5 L1125.4 483.6 L1128.3 482.5 L1131.1 481.4M1143.6 475.3 L1146.0 473.8 L1148.4 472.3 L1150.7 470.7 L1153.0 469.1 L1155.3 467.4 L1157.5 465.6 L1159.7 463.7 L1161.8 461.8M1174.8 447.5 L1176.8 444.9 L1178.6 442.3 L1180.4 439.5 L1182.1 436.8 L1183.7 433.9 L1185.2 431.0 L1186.7 428.1 L1188.1 425.1M1193.9 408.8 L1194.5 406.3 L1195.1 403.8 L1195.7 401.3 L1196.1 398.8 L1196.6 396.3 L1196.9 393.8 L1197.2 391.3 L1197.5 388.7M1197.9 372.1 L1197.9 373.1 L1197.9 374.1 L1198.0 375.1 L1198.0 376.0 L1198.0 377.0 L1198.0 378.0 L1198.0 379.0 L1198.0 380.0"/><path d="M940,552 Q1094,560 1262,552 L1262,620 L940,620 Z" fill="#ffffff"/></g><rect x="945.9" y="372.9" width="310.6" height="241.9" rx="22.5" fill="none" stroke="#3aa890" stroke-width="5.2"/><text x="1134" y="386" font-size="12.6">Nucleus</text><text x="956.8" y="486" font-size="13">Cytosol</text><rect x="1008.3" y="378.6" width="86.0" height="31.4" rx="10.7" fill="#8fcab8" stroke="#1f8f42" stroke-width="2.9"/><circle cx="1016.3" cy="384.1" r="1.8" fill="#fff"/><text x="1054.3" y="398.1" font-size="13.2" style="fill:#3a9068;stroke:#3a9068" text-anchor="middle">PbrMADS1</text><rect x="1050.8" y="423.2" width="90.0" height="30.6" rx="10.4" fill="#8ccb98" stroke="#1f8f42" stroke-width="2.9"/><circle cx="1058.8" cy="428.7" r="1.8" fill="#fff"/><text x="1098.8" y="442.3" font-size="13.2" style="fill:#3a9068;stroke:#3a9068" text-anchor="middle">PbrMYB169</text><rect x="1021.5" y="405.0" width="43.5" height="29.5" rx="10.0" fill="#cce6cc" stroke="#1f8f42" stroke-width="2.9"/><circle cx="1029.5" cy="410.5" r="1.8" fill="#fff"/><text x="1046.2" y="423.6" font-size="13.2" style="fill:#3a9068;stroke:#3a9068" text-anchor="middle">M63</text><polygon points="1057.8,452.6 1004.6,503.1 1002.7,501.1 1001.0,511.0 1010.9,509.8 1009.0,507.8 1062.2,457.4" fill="#4a90b8"/><polygon points="1080.3,454.0 1079.6,506.0 1076.9,505.9 1082.8,514.0 1088.9,506.1 1086.1,506.0 1086.7,454.0" fill="#4a90b8"/><polygon points="1127.5,456.1 1173.3,510.0 1171.2,511.8 1181.0,514.0 1180.4,504.0 1178.3,505.8 1132.5,451.9" fill="#4a90b8"/><g><ellipse cx="956.1" cy="527.0" rx="4.6" ry="6.6" fill="#d2d8f0" fill-opacity="0.45" stroke="#c486bc" stroke-width="1.8" opacity="0.85"/><ellipse cx="963.8" cy="527.0" rx="4.6" ry="6.6" fill="#d2d8f0" fill-opacity="0.45" stroke="#c486bc" stroke-width="1.8" opacity="0.85"/><ellipse cx="971.5" cy="527.0" rx="4.6" ry="6.6" fill="#d2d8f0" fill-opacity="0.45" stroke="#c486bc" stroke-width="1.8" opacity="0.85"/><ellipse cx="979.2" cy="527.0" rx="4.6" ry="6.6" fill="#d2d8f0" fill-opacity="0.45" stroke="#c486bc" stroke-width="1.8" opacity="0.85"/></g><rect x="986.0" y="515.2" width="48.4" height="24" fill="#fdf3b0" stroke="#1e9a4a" stroke-width="3.3" stroke-dasharray="8 4.5"/><text x="994.3" y="531.8" font-size="13" textLength="31.8" lengthAdjust="spacingAndGlyphs">4CL1</text><g><ellipse cx="1043.8" cy="527.0" rx="5.4" ry="6.6" fill="#d2d8f0" fill-opacity="0.45" stroke="#c486bc" stroke-width="1.8" opacity="0.85"/><ellipse cx="1052.7" cy="527.0" rx="5.4" ry="6.6" fill="#d2d8f0" fill-opacity="0.45" stroke="#c486bc" stroke-width="1.8" opacity="0.85"/><ellipse cx="1061.6" cy="527.0" rx="5.4" ry="6.6" fill="#d2d8f0" fill-opacity="0.45" stroke="#c486bc" stroke-width="1.8" opacity="0.85"/><ellipse cx="1070.5" cy="527.0" rx="5.4" ry="6.6" fill="#d2d8f0" fill-opacity="0.45" stroke="#c486bc" stroke-width="1.8" opacity="0.85"/></g><rect x="1083.8" y="515.2" width="58.0" height="24" fill="#fdf3b0" stroke="#1e9a4a" stroke-width="3.3" stroke-dasharray="8 4.5"/><text x="1086.8" y="531.8" font-size="13" textLength="52.0" lengthAdjust="spacingAndGlyphs">CCOAMT1</text><g><ellipse cx="1148.5" cy="527.0" rx="4.7" ry="6.6" fill="#d2d8f0" fill-opacity="0.45" stroke="#c486bc" stroke-width="1.8" opacity="0.85"/><ellipse cx="1156.4" cy="527.0" rx="4.7" ry="6.6" fill="#d2d8f0" fill-opacity="0.45" stroke="#c486bc" stroke-width="1.8" opacity="0.85"/><ellipse cx="1164.3" cy="527.0" rx="4.7" ry="6.6" fill="#d2d8f0" fill-opacity="0.45" stroke="#c486bc" stroke-width="1.8" opacity="0.85"/><ellipse cx="1172.2" cy="527.0" rx="4.7" ry="6.6" fill="#d2d8f0" fill-opacity="0.45" stroke="#c486bc" stroke-width="1.8" opacity="0.85"/><ellipse cx="1180.1" cy="527.0" rx="4.7" ry="6.6" fill="#d2d8f0" fill-opacity="0.45" stroke="#c486bc" stroke-width="1.8" opacity="0.85"/></g><rect x="1186.8" y="515.2" width="57.8" height="24" fill="#fdf3b0" stroke="#1e9a4a" stroke-width="3.3" stroke-dasharray="8 4.5"/><text x="1196.2" y="531.8" font-size="13" textLength="39.0" lengthAdjust="spacingAndGlyphs">CCR21</text><polygon points="1016.0,540.0 1016.0,556.5 1014.0,556.5 1019.5,564.0 1025.0,556.5 1023.0,556.5 1023.0,540.0" fill="#4a90b8"/><polygon points="1122.5,541.0 1122.5,557.5 1120.5,557.5 1126.0,565.0 1131.5,557.5 1129.5,557.5 1129.5,541.0" fill="#4a90b8"/><polygon points="1217.1,541.0 1217.1,558.0 1215.1,558.0 1220.6,565.5 1226.1,558.0 1224.1,558.0 1224.1,541.0" fill="#4a90b8"/><text x="1011.5" y="573.7" font-size="12">Lignin</text><text x="1150" y="573.7" font-size="12">Lignin</text><text x="1045" y="606.8" font-size="12.2">Secondary cell wall</text><g transform="translate(0.0,0)"><polyline points="967.8,568.5 970.7,570.9 975.4,571.8" fill="none" stroke="#56a8ae" stroke-width="1.1"/><polyline points="975.0,563.8 976.8,567.1" fill="none" stroke="#56a8ae" stroke-width="1.1"/><polyline points="984.0,570.9 989.2,568.1 992.5,573.3 997.2,572.8 1000.1,576.1" fill="none" stroke="#56a8ae" stroke-width="1.1"/><polyline points="984.0,577.5 989.6,577.1 992.5,573.3" fill="none" stroke="#56a8ae" stroke-width="1.1"/><polyline points="989.2,580.4 996.3,580.4" fill="none" stroke="#56a8ae" stroke-width="1.1"/><polyline points="1005.8,576.1 1008.6,572.8 1011.4,573.3" fill="none" stroke="#56a8ae" stroke-width="1.1"/><polyline points="1006.7,585.6 1009.5,588.4 1014.3,588.9 1016.7,591.8 1020.0,592.2" fill="none" stroke="#56a8ae" stroke-width="1.1"/><polyline points="1009.5,588.4 1012.4,582.7 1009.5,579.9" fill="none" stroke="#56a8ae" stroke-width="1.1"/><polyline points="1002.9,590.8 1006.7,587.5" fill="none" stroke="#56a8ae" stroke-width="1.1"/><polyline points="1016.2,597.9 1020.9,597.4" fill="none" stroke="#56a8ae" stroke-width="1.1"/><polyline points="1030.4,591.8 1035.6,590.3" fill="none" stroke="#56a8ae" stroke-width="1.1"/><polyline points="1044.1,587.0 1047.9,586.1" fill="none" stroke="#56a8ae" stroke-width="1.1"/><polyline points="1056.0,581.8 1059.8,577.1 1063.6,578.0 1067.4,573.3" fill="none" stroke="#56a8ae" stroke-width="1.1"/><polyline points="1059.8,583.7 1065.5,582.7 1067.4,579.0 1071.2,585.1 1074.0,585.6" fill="none" stroke="#56a8ae" stroke-width="1.1"/><polyline points="1057.9,591.3 1061.7,593.2" fill="none" stroke="#56a8ae" stroke-width="1.1"/><polyline points="1069.3,567.6 1071.6,570.4" fill="none" stroke="#56a8ae" stroke-width="1.1"/><polyline points="1077.3,570.4 1079.7,567.1 1084.9,567.1" fill="none" stroke="#56a8ae" stroke-width="1.1"/><polygon points="984.9,571.8 982.3,575.9 977.1,575.9 974.5,571.8 977.1,567.8 982.3,567.8" fill="#dff6fb" stroke="#2f9ba8" stroke-width="3.2" stroke-linejoin="round"/><polygon points="1008.1,580.4 1005.5,584.4 1000.3,584.4 997.7,580.4 1000.3,576.3 1005.5,576.3" fill="#dff6fb" stroke="#2f9ba8" stroke-width="3.2" stroke-linejoin="round"/><polygon points="1029.4,591.3 1026.8,595.3 1021.6,595.3 1019.0,591.3 1021.6,587.2 1026.8,587.2" fill="#dff6fb" stroke="#2f9ba8" stroke-width="3.2" stroke-linejoin="round"/><polygon points="1058.4,586.1 1055.8,590.1 1050.6,590.1 1048.0,586.1 1050.6,582.0 1055.8,582.0" fill="#dff6fb" stroke="#2f9ba8" stroke-width="3.2" stroke-linejoin="round"/><polygon points="1079.7,574.7 1077.1,578.7 1071.9,578.7 1069.3,574.7 1071.9,570.6 1077.1,570.6" fill="#dff6fb" stroke="#2f9ba8" stroke-width="3.2" stroke-linejoin="round"/><polygon points="1043.7,585.6 1041.8,588.6 1038.0,588.6 1036.1,585.6 1038.0,582.6 1041.8,582.6" fill="none" stroke="#56a8ae" stroke-width="1.2"/><polygon points="1041.8,591.3 1039.9,594.2 1036.1,594.2 1034.2,591.3 1036.1,588.3 1039.9,588.3" fill="none" stroke="#56a8ae" stroke-width="1.2"/></g><g transform="translate(139.5,0)"><polyline points="967.8,568.5 970.7,570.9 975.4,571.8" fill="none" stroke="#56a8ae" stroke-width="1.1"/><polyline points="975.0,563.8 976.8,567.1" fill="none" stroke="#56a8ae" stroke-width="1.1"/><polyline points="984.0,570.9 989.2,568.1 992.5,573.3 997.2,572.8 1000.1,576.1" fill="none" stroke="#56a8ae" stroke-width="1.1"/><polyline points="984.0,577.5 989.6,577.1 992.5,573.3" fill="none" stroke="#56a8ae" stroke-width="1.1"/><polyline points="989.2,580.4 996.3,580.4" fill="none" stroke="#56a8ae" stroke-width="1.1"/><polyline points="1005.8,576.1 1008.6,572.8 1011.4,573.3" fill="none" stroke="#56a8ae" stroke-width="1.1"/><polyline points="1006.7,585.6 1009.5,588.4 1014.3,588.9 1016.7,591.8 1020.0,592.2" fill="none" stroke="#56a8ae" stroke-width="1.1"/><polyline points="1009.5,588.4 1012.4,582.7 1009.5,579.9" fill="none" stroke="#56a8ae" stroke-width="1.1"/><polyline points="1002.9,590.8 1006.7,587.5" fill="none" stroke="#56a8ae" stroke-width="1.1"/><polyline points="1016.2,597.9 1020.9,597.4" fill="none" stroke="#56a8ae" stroke-width="1.1"/><polyline points="1030.4,591.8 1035.6,590.3" fill="none" stroke="#56a8ae" stroke-width="1.1"/><polyline points="1044.1,587.0 1047.9,586.1" fill="none" stroke="#56a8ae" stroke-width="1.1"/><polyline points="1056.0,581.8 1059.8,577.1 1063.6,578.0 1067.4,573.3" fill="none" stroke="#56a8ae" stroke-width="1.1"/><polyline points="1059.8,583.7 1065.5,582.7 1067.4,579.0 1071.2,585.1 1074.0,585.6" fill="none" stroke="#56a8ae" stroke-width="1.1"/><polyline points="1057.9,591.3 1061.7,593.2" fill="none" stroke="#56a8ae" stroke-width="1.1"/><polyline points="1069.3,567.6 1071.6,570.4" fill="none" stroke="#56a8ae" stroke-width="1.1"/><polyline points="1077.3,570.4 1079.7,567.1 1084.9,567.1" fill="none" stroke="#56a8ae" stroke-width="1.1"/><polygon points="984.9,571.8 982.3,575.9 977.1,575.9 974.5,571.8 977.1,567.8 982.3,567.8" fill="#dff6fb" stroke="#2f9ba8" stroke-width="3.2" stroke-linejoin="round"/><polygon points="1008.1,580.4 1005.5,584.4 1000.3,584.4 997.7,580.4 1000.3,576.3 1005.5,576.3" fill="#dff6fb" stroke="#2f9ba8" stroke-width="3.2" stroke-linejoin="round"/><polygon points="1029.4,591.3 1026.8,595.3 1021.6,595.3 1019.0,591.3 1021.6,587.2 1026.8,587.2" fill="#dff6fb" stroke="#2f9ba8" stroke-width="3.2" stroke-linejoin="round"/><polygon points="1058.4,586.1 1055.8,590.1 1050.6,590.1 1048.0,586.1 1050.6,582.0 1055.8,582.0" fill="#dff6fb" stroke="#2f9ba8" stroke-width="3.2" stroke-linejoin="round"/><polygon points="1079.7,574.7 1077.1,578.7 1071.9,578.7 1069.3,574.7 1071.9,570.6 1077.1,570.6" fill="#dff6fb" stroke="#2f9ba8" stroke-width="3.2" stroke-linejoin="round"/><polygon points="1043.7,585.6 1041.8,588.6 1038.0,588.6 1036.1,585.6 1038.0,582.6 1041.8,582.6" fill="none" stroke="#56a8ae" stroke-width="1.2"/><polygon points="1041.8,591.3 1039.9,594.2 1036.1,594.2 1034.2,591.3 1036.1,588.3 1039.9,588.3" fill="none" stroke="#56a8ae" stroke-width="1.2"/></g></g>
<g id="loquat">
<path d="M596,114.5 C575,117 553,132 543,150 C535,165 533,185 535,200 C538,218 552,230 575,232.5 C595,234 612,226 620,218 L628,205 L628,165 C620,145 612,130 606,121 C603,116 600,114.5 596,114.5 Z" fill="#e8a82a" stroke="#b8641e" stroke-width="4.6" stroke-linejoin="round"/>
<path d="M596.5,116 C600,116 602.5,118 603,121 C602,124 598,124 596,121 Z" fill="#5a3a1a"/>
<circle cx="564" cy="153" r="6.2" fill="#f0d59c"/><circle cx="577" cy="141" r="2.6" fill="#f0d59c"/>
<path d="M643,139 C636,146 628,154 625,166 C622,176 621.5,186 622,196 C623,208 630,220 646,229 L695,229 C704,220 709,210 711,200 C712,188 710,175 704,164 C698,153 690,146 680,140 C670,135 662,134 655,134 Z" fill="#e8c060" stroke="#b0601e" stroke-width="5" stroke-linejoin="round"/>
<circle cx="647.4" cy="128.5" r="7.8" fill="#b0601e"/><ellipse cx="647.4" cy="127.5" rx="3.6" ry="2.8" transform="rotate(30 647.4 127.5)" fill="#2e5a32"/>
<path d="M662.4,158 C670,161 680,168 686,176 L682,190 L646,190 L643,179 C648,170 655,162 662.4,158 Z" fill="#f2e2b4"/>
<path d="M646,175 C654,171 662,172 666,177 C669,186 668,205 664,214 C659,219 652,218 647,212 C642,203 640,190 641,182 C642,178 644,176 646,175 Z" fill="#b46a2c"/>
<path d="M670,175 C678,173 684,176 687,182 C691,192 690,204 685,211 C680,216 672,217 668,212 C664,203 664,190 665,182 C666,178 668,176 670,175 Z" fill="#a85a26"/>
<ellipse cx="651.5" cy="194.5" rx="3" ry="6.5" fill="#e4b894"/><circle cx="652" cy="184.5" r="1.4" fill="#e4b894"/>
<ellipse cx="677" cy="195" rx="3.2" ry="7" transform="rotate(15 677 195)" fill="#e4b894"/><circle cx="677.5" cy="182" r="1.4" fill="#e4b894"/>
<rect x="691.2" y="177" width="18.3" height="17.7" fill="none" stroke="#237a3a" stroke-width="1.8"/>
<text x="597" y="248.8" font-size="15.4">Loquat</text>
</g>
<g id="pear">
<path d="M600.8,413 C592,411 590,416 585.3,416.4 C578,415 570,413 563,414.6 C552,416 542,424 535,437 C529,448 528.5,462 531,475 C534,490 542,503 555,511 C565,516 578,517 590,516 C600,515 610,512 620,508 L622,415 Z" fill="#e8c85a" stroke="#a87a2a" stroke-width="4.4" stroke-linejoin="round"/>
<path d="M592,415 C577,440 576,490 600,512 L622,506 L622,415 Z" fill="#e0b440"/>
<circle cx="553.5" cy="433.3" r="6.5" fill="#f6ecc4"/><circle cx="544" cy="447" r="4" fill="#f6ecc4"/>
<circle cx="544" cy="474" r="1.5" fill="#cca244"/>
<circle cx="556" cy="471" r="1.5" fill="#cca244"/>
<circle cx="549" cy="480" r="1.5" fill="#cca244"/>
<circle cx="561" cy="483" r="1.5" fill="#cca244"/>
<circle cx="551" cy="489" r="1.5" fill="#cca244"/>
<circle cx="559" cy="491" r="1.5" fill="#cca244"/>
<circle cx="558" cy="498" r="1.5" fill="#cca244"/>
<circle cx="545" cy="476" r="1.5" fill="#cca244"/>
<path d="M576.7,391.5 C582,393 586,400 585.3,415" fill="none" stroke="#1e5a2a" stroke-width="7.5" stroke-linecap="round"/>
<path d="M576.7,391.5 C582,393 586,400 585.3,415" fill="none" stroke="#2e7a3a" stroke-width="4.5" stroke-linecap="round"/>
<path d="M588.5,457.3 C588.5,440 595,422 606,414 C620,408 640,410 652.3,430 C660,418 672,412 685,413.8 C700,416 711,428 712.8,445 C714,468 706,488 690,502 C685,512 670,520 649,520.6 C628,520 610,512 600,500 C592,490 588.5,475 588.5,457.3 Z" fill="#e0b448" stroke="#a87a2a" stroke-width="4.6" stroke-linejoin="round"/>
<path d="M588.5,457.3 C588.5,440 595,422 606,414 C620,408 640,410 652.3,430 C660,418 672,412 685,413.8 C700,416 711,428 712.8,445 C714,468 706,488 690,502 C677,510 665,513.5 650,513.5 C632,513 612,505 600,494 C592,485 588.5,472 588.5,457.3 Z" fill="#f5f2e0" stroke="#a87a2a" stroke-width="4.6" stroke-linejoin="round"/>
<path d="M657.5,405.5 C654,410 652,416 652.3,424" fill="none" stroke="#1e5a2a" stroke-width="6.5" stroke-linecap="round"/>
<path d="M657.5,405.5 C654,410 652,416 652.3,424" fill="none" stroke="#2e7a3a" stroke-width="3.8" stroke-linecap="round"/>
<path d="M652.3,434 C651,460 649,485 648,506" fill="none" stroke="#e4d4ac" stroke-width="2"/>
<path d="M648.9,477 C640,472 634.5,464 635,456 C636,448 643,445.5 650.6,445.5 C658,445.5 665,449 666,456 C666.5,464 659,472 648.9,477 Z" fill="#e8dcbc"/>
<ellipse cx="643" cy="459.5" rx="3.4" ry="5" transform="rotate(50 643 459.5)" fill="#8a6030"/>
<ellipse cx="657.5" cy="459.5" rx="3.4" ry="5" transform="rotate(-50 657.5 459.5)" fill="#8a6030"/>
<rect x="680.7" y="463.7" width="20.9" height="20.3" fill="none" stroke="#2e8a4a" stroke-width="1.8"/>
<text x="606" y="538" font-size="15.4">Pear</text>
</g>
<g id="apple">
<path d="M605,726 C590,723 565,723 545,727 C528,731 520,748 518.5,772 C518,795 525,815 545,826 C560,833 580,834.5 600,834 L615,832 L615,726 Z" fill="#e06850" stroke="#8a1a20" stroke-width="4.6" stroke-linejoin="round"/>
<path d="M563,733 C574,752 576,800 588,831 L605,831 L605,728 Z" fill="#c84838"/>
<ellipse cx="535" cy="750" rx="5" ry="3.2" transform="rotate(-35 535 750)" fill="#f6c2c8"/><circle cx="531.5" cy="761.2" r="2.2" fill="#f6c2c8"/>
<path d="M564,704 C569,712 572.5,722 574.4,735" fill="none" stroke="#1a5e28" stroke-width="9" stroke-linecap="round"/>
<path d="M564,704 C569,712 572.5,722 574.4,735" fill="none" stroke="#3a9a44" stroke-width="5" stroke-linecap="round"/>
<path d="M578,778 C578,750 585,732 600,723 C615,718 630,720 640,722 C655,720 675,718 690,724 C702,733 706,755 706,778 C706,805 697,822 680,830 C665,835 650,835 635,834.5 C615,834 598,828 590,818 C582,808 578,795 578,778 Z" fill="#d85a48" stroke="#8a1a20" stroke-width="4.6" stroke-linejoin="round"/>
<path d="M578.5,777.5 C578.5,758 584,740 594,731 C602,725 616,725 627,733 C634,739 638,746 640.6,754 C644,745 649,738 656,733 C664,727 678,725 690,731 C700,740 704,758 704,777.5 C704,795 700,808 692,817 C686,821 678,822 672,820 C664,817 656,812 646,812 C636,812 626,819 616,825 C606,826 598,822 592,815 C583,803 578.5,792 578.5,777.5 Z" fill="#f7f3dc" stroke="#8a1a20" stroke-width="4.8" stroke-linejoin="round"/>
<path d="M628.6,713 C634,722 638,734 640.6,747" fill="none" stroke="#1a5e28" stroke-width="9" stroke-linecap="round"/>
<path d="M628.6,713 C634,722 638,734 640.6,747" fill="none" stroke="#3a9a44" stroke-width="5" stroke-linecap="round"/>
<path d="M635.5,770.5 C632,776 629.5,781 630,784.5 C631,787 635,787.5 638,785.5 C640,782 639,776 635.5,770.5 Z" fill="#8a5a20"/>
<path d="M649.5,769.5 C647.5,775 646.5,780 647.5,783.5 C649,786.5 653,786.5 655,784 C656.5,780.5 654,775 649.5,769.5 Z" fill="#8a5a20"/>
<rect x="674" y="770.6" width="22" height="21.4" fill="none" stroke="#3a8a5a" stroke-width="1.8"/>
<text x="611.4" y="852.2" font-size="15.4">Apple</text>
</g>
<defs><linearGradient id="arrG" x1="0" y1="0" x2="1" y2="0"><stop offset="0" stop-color="#d8ec90"/><stop offset="0.6" stop-color="#8cc048"/><stop offset="1" stop-color="#6ab03a"/></linearGradient></defs>
<path d="M727.0,180.0 Q742.0,176.8 752.3,177.5 L748.3,172.0 L762.3,180.0 L748.3,188.0 L752.3,182.5 Q742.0,183.2 727.0,180.0 Z" fill="url(#arrG)"/>
<path d="M723.0,479.2 Q738.0,476.0 748.0,476.7 L744.0,471.2 L758.0,479.2 L744.0,487.2 L748.0,481.7 Q738.0,482.4 723.0,479.2 Z" fill="url(#arrG)"/>
<path d="M717.0,779.5 Q732.0,776.3 741.6,777.0 L737.6,771.5 L751.6,779.5 L737.6,787.5 L741.6,782.0 Q732.0,782.7 717.0,779.5 Z" fill="url(#arrG)"/>
</svg></body></html>
